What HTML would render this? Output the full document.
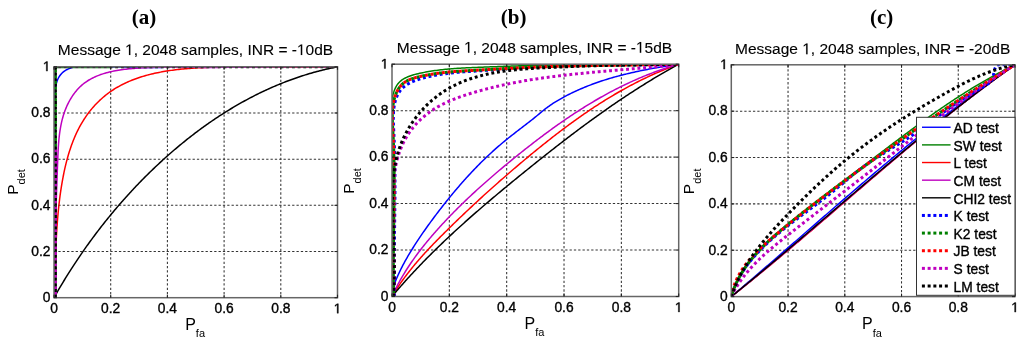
<!DOCTYPE html>
<html><head><meta charset="utf-8"><style>
html,body{margin:0;padding:0;background:#fff;}
svg{display:block;filter:blur(0.4px);}
text{font-family:'Liberation Sans', sans-serif;fill:#000;}
.b{stroke:#000;stroke-width:0.35px;}
.t{stroke:#000;stroke-width:0.12px;}
</style></head><body>
<svg width="1024" height="342" viewBox="0 0 1024 342">
<rect width="1024" height="342" fill="#fff"/>
<defs><clipPath id="cpa"><rect x="54.0" y="66.8" width="283.5" height="230.89999999999998"/></clipPath></defs>
<line x1="110.70" y1="66.80" x2="110.70" y2="297.70" stroke="#333" stroke-width="1.05" stroke-dasharray="2.3 2.03"/>
<line x1="54.00" y1="251.52" x2="337.50" y2="251.52" stroke="#333" stroke-width="1.05" stroke-dasharray="2.3 2.03"/>
<line x1="167.40" y1="66.80" x2="167.40" y2="297.70" stroke="#333" stroke-width="1.05" stroke-dasharray="2.3 2.03"/>
<line x1="54.00" y1="205.34" x2="337.50" y2="205.34" stroke="#333" stroke-width="1.05" stroke-dasharray="2.3 2.03"/>
<line x1="224.10" y1="66.80" x2="224.10" y2="297.70" stroke="#333" stroke-width="1.05" stroke-dasharray="2.3 2.03"/>
<line x1="54.00" y1="159.16" x2="337.50" y2="159.16" stroke="#333" stroke-width="1.05" stroke-dasharray="2.3 2.03"/>
<line x1="280.80" y1="66.80" x2="280.80" y2="297.70" stroke="#333" stroke-width="1.05" stroke-dasharray="2.3 2.03"/>
<line x1="54.00" y1="112.98" x2="337.50" y2="112.98" stroke="#333" stroke-width="1.05" stroke-dasharray="2.3 2.03"/>
<g clip-path="url(#cpa)">
<path d="M55.13,297.70 L55.13,69.11 L57.40,67.03 L68.17,66.80 L337.50,66.80" fill="none" stroke="#008000" stroke-width="1.5" stroke-linejoin="round" />
<path d="M54.00,297.70 L54.00,296.17 L54.00,294.65 L54.00,293.12 L54.00,291.60 L54.00,290.08 L54.00,288.56 L54.00,287.04 L54.00,285.52 L54.00,284.00 L54.00,282.49 L54.00,280.97 L54.01,279.46 L54.02,277.94 L54.04,276.43 L54.05,274.92 L54.07,273.41 L54.09,271.90 L54.11,270.39 L54.13,268.89 L54.15,267.38 L54.17,265.87 L54.20,264.37 L54.22,262.86 L54.25,261.36 L54.28,259.86 L54.31,258.35 L54.33,256.85 L54.36,255.35 L54.40,253.85 L54.43,252.35 L54.46,250.85 L54.49,249.35 L54.53,247.86 L54.56,246.36 L54.60,244.86 L54.63,243.36 L54.67,241.87 L54.70,240.37 L54.74,238.88 L54.77,237.38 L54.81,235.89 L54.85,234.39 L54.88,232.90 L54.92,231.40 L54.96,229.91 L54.99,228.41 L55.03,226.92 L55.07,225.43 L55.10,223.93 L55.14,222.44 L55.17,220.94 L55.21,219.45 L55.24,217.96 L55.28,216.46 L55.31,214.97 L55.35,213.48 L55.38,211.98 L55.41,210.49 L55.44,208.99 L55.47,207.50 L55.50,206.00 L55.53,204.51 L55.56,203.01 L55.59,201.52 L55.61,200.02 L55.64,198.52 L55.66,197.03 L55.68,195.53 L55.70,194.03 L55.72,192.54 L55.74,191.04 L55.76,189.54 L55.78,188.04 L55.79,186.54 L55.80,185.04 L55.82,183.54 L55.83,182.03 L55.83,180.53 L55.84,179.03 L55.85,177.52 L55.85,176.02 L55.85,174.51 L55.85,173.01 L55.85,171.50 L55.84,169.99 L55.83,168.48 L55.83,166.97 L55.81,165.46 L55.80,163.95 L55.79,162.43 L55.77,160.92 L55.75,159.41 L55.72,157.89 L55.70,156.37 L55.67,154.85 L55.64,153.33 L55.61,151.81 L55.57,150.29 L55.54,148.77 L55.49,147.25 L55.45,145.72 L55.40,144.19 L55.35,142.66 L55.30,141.14 L55.25,139.60 L55.19,138.07 L55.13,136.54 L55.06,135.00 L54.99,133.47 L54.93,131.93 L54.85,130.39 L54.78,128.85 L54.71,127.31 L54.64,125.77 L54.58,124.23 L54.51,122.68 L54.45,121.14 L54.39,119.60 L54.34,118.06 L54.29,116.51 L54.25,114.97 L54.22,113.43 L54.19,111.89 L54.17,110.35 L54.17,108.81 L54.17,107.27 L54.18,105.73 L54.21,104.20 L54.25,102.66 L54.30,101.13 L54.36,99.60 L54.44,98.07 L54.54,96.54 L54.65,95.01 L54.77,93.49 L54.92,91.97 L55.09,90.46 L55.29,88.96 L55.51,87.48 L55.78,86.02 L56.08,84.58 L56.44,83.18 L56.84,81.82 L57.30,80.49 L57.81,79.22 L58.40,78.00 L59.05,76.83 L59.77,75.72 L60.57,74.68 L61.43,73.70 L62.36,72.78 L63.36,71.92 L64.42,71.12 L65.53,70.39 L66.70,69.71 L67.93,69.11 L69.20,68.56 L70.52,68.07 L71.87,67.63 L73.27,67.24 L74.68,66.90 L76.13,66.80 L77.59,66.80 L79.06,66.80 L80.54,66.80 L82.03,66.80 L83.53,66.80 L85.03,66.80 L86.55,66.80 L88.07,66.80 L89.60,66.80 L91.13,66.80 L92.67,66.80 L94.22,66.80 L95.77,66.80 L97.32,66.80 L98.88,66.80 L100.44,66.80 L102.00,66.80 L103.57,66.80 L105.14,66.80 L106.71,66.80 L108.28,66.80 L109.85,66.80 L111.42,66.80 L112.98,66.80 L114.55,66.80 L116.12,66.80 L117.68,66.80 L119.24,66.80 L120.79,66.80 L122.35,66.81 L123.90,66.89 L125.44,66.97 L126.98,67.05 L128.52,67.11 L130.06,67.18 L131.59,67.23 L133.11,67.28 L134.64,67.32 L136.16,67.36 L137.68,67.40 L139.20,67.42 L140.71,67.45 L142.22,67.47 L143.73,67.48 L145.24,67.49 L146.75,67.50 L148.25,67.50 L149.75,67.50 L151.25,67.50 L152.74,67.49 L154.24,67.48 L155.73,67.47 L157.23,67.45 L158.72,67.43 L160.21,67.41 L161.69,67.39 L163.18,67.36 L164.67,67.33 L166.15,67.30 L167.64,67.27 L169.12,67.24 L170.61,67.21 L172.09,67.18 L173.57,67.14 L175.06,67.11 L176.54,67.07 L178.02,67.03 L179.50,67.00 L180.99,66.96 L182.47,66.93 L183.95,66.89 L185.44,66.86 L186.92,66.83 L188.41,66.80 L189.89,66.80 L191.38,66.80 L192.87,66.80 L194.36,66.80 L195.85,66.80 L197.34,66.80 L198.83,66.80 L200.33,66.80 L201.82,66.80 L203.32,66.80 L204.82,66.80 L206.31,66.80 L207.81,66.80 L209.31,66.80 L210.81,66.80 L212.31,66.80 L213.82,66.80 L215.32,66.80 L216.82,66.80 L218.33,66.80 L219.83,66.80 L221.34,66.80 L222.84,66.80 L224.35,66.80 L225.86,66.80 L227.37,66.80 L228.88,66.80 L230.39,66.80 L231.90,66.80 L233.41,66.80 L234.92,66.80 L236.43,66.80 L237.94,66.80 L239.46,66.80 L240.97,66.80 L242.48,66.80 L244.00,66.80 L245.51,66.80 L247.02,66.80 L248.54,66.80 L250.05,66.80 L251.57,66.80 L253.08,66.80 L254.60,66.80 L256.11,66.80 L257.63,66.80 L259.15,66.80 L260.66,66.80 L262.18,66.80 L263.69,66.80 L265.21,66.80 L266.72,66.80 L268.24,66.80 L269.76,66.82 L271.27,66.83 L272.79,66.85 L274.30,66.86 L275.82,66.87 L277.33,66.89 L278.85,66.90 L280.36,66.92 L281.88,66.93 L283.39,66.94 L284.90,66.95 L286.42,66.97 L287.93,66.98 L289.44,66.99 L290.96,67.00 L292.47,67.01 L293.98,67.02 L295.49,67.02 L297.00,67.03 L298.51,67.04 L300.02,67.04 L301.53,67.05 L303.04,67.05 L304.54,67.05 L306.05,67.06 L307.56,67.06 L309.06,67.06 L310.57,67.06 L312.07,67.05 L313.57,67.05 L315.08,67.04 L316.58,67.04 L318.08,67.03 L319.58,67.02 L321.08,67.01 L322.58,67.00 L324.07,66.99 L325.57,66.97 L327.06,66.96 L328.56,66.94 L330.05,66.92 L331.54,66.90 L333.03,66.88 L334.52,66.85 L336.01,66.83 L337.50,66.80" fill="none" stroke="#0000ff" stroke-width="1.5" stroke-linejoin="round" />
<path d="M54.00,297.70 L54.07,296.20 L54.14,294.69 L54.20,293.19 L54.27,291.69 L54.33,290.19 L54.39,288.69 L54.45,287.19 L54.51,285.69 L54.56,284.19 L54.62,282.69 L54.67,281.19 L54.73,279.69 L54.78,278.19 L54.83,276.69 L54.88,275.20 L54.93,273.70 L54.99,272.20 L55.04,270.70 L55.09,269.21 L55.14,267.71 L55.19,266.22 L55.24,264.72 L55.29,263.22 L55.34,261.73 L55.39,260.23 L55.45,258.74 L55.50,257.24 L55.56,255.74 L55.61,254.25 L55.67,252.75 L55.73,251.26 L55.79,249.76 L55.86,248.27 L55.92,246.77 L55.99,245.27 L56.05,243.78 L56.13,242.28 L56.20,240.78 L56.27,239.29 L56.35,237.79 L56.43,236.29 L56.52,234.80 L56.60,233.30 L56.69,231.80 L56.78,230.30 L56.88,228.80 L56.98,227.30 L57.08,225.81 L57.19,224.31 L57.30,222.81 L57.41,221.30 L57.53,219.80 L57.65,218.30 L57.78,216.80 L57.91,215.30 L58.05,213.79 L58.19,212.29 L58.33,210.79 L58.48,209.28 L58.64,207.78 L58.80,206.27 L58.96,204.76 L59.13,203.26 L59.31,201.75 L59.49,200.24 L59.68,198.73 L59.87,197.22 L60.07,195.71 L60.28,194.20 L60.49,192.68 L60.71,191.17 L60.93,189.66 L61.17,188.14 L61.40,186.62 L61.65,185.11 L61.90,183.59 L62.16,182.07 L62.43,180.55 L62.70,179.03 L62.99,177.52 L63.28,176.00 L63.58,174.48 L63.89,172.97 L64.20,171.46 L64.53,169.94 L64.86,168.44 L65.21,166.93 L65.56,165.43 L65.93,163.92 L66.30,162.43 L66.69,160.93 L67.08,159.44 L67.49,157.96 L67.90,156.48 L68.33,155.00 L68.77,153.53 L69.22,152.07 L69.68,150.61 L70.16,149.15 L70.64,147.71 L71.14,146.26 L71.65,144.83 L72.18,143.40 L72.72,141.98 L73.27,140.57 L73.83,139.17 L74.41,137.77 L75.00,136.39 L75.61,135.01 L76.23,133.64 L76.87,132.28 L77.52,130.93 L78.18,129.59 L78.86,128.26 L79.56,126.94 L80.27,125.64 L80.99,124.34 L81.74,123.05 L82.50,121.78 L83.27,120.52 L84.07,119.27 L84.88,118.04 L85.70,116.81 L86.54,115.60 L87.40,114.41 L88.27,113.22 L89.16,112.05 L90.07,110.90 L90.99,109.76 L91.93,108.63 L92.88,107.52 L93.84,106.42 L94.82,105.34 L95.82,104.28 L96.83,103.22 L97.85,102.19 L98.89,101.17 L99.95,100.17 L101.01,99.18 L102.09,98.21 L103.19,97.26 L104.30,96.33 L105.42,95.41 L106.55,94.51 L107.70,93.63 L108.86,92.77 L110.04,91.92 L111.22,91.10 L112.42,90.29 L113.63,89.50 L114.85,88.73 L116.09,87.98 L117.33,87.24 L118.59,86.53 L119.86,85.83 L121.14,85.14 L122.43,84.48 L123.73,83.83 L125.04,83.20 L126.36,82.58 L127.69,81.98 L129.03,81.40 L130.38,80.83 L131.74,80.28 L133.11,79.74 L134.49,79.22 L135.88,78.71 L137.27,78.21 L138.67,77.73 L140.08,77.27 L141.50,76.82 L142.93,76.38 L144.36,75.96 L145.80,75.55 L147.25,75.15 L148.70,74.76 L150.16,74.39 L151.63,74.03 L153.10,73.68 L154.58,73.35 L156.06,73.02 L157.55,72.71 L159.05,72.41 L160.54,72.12 L162.05,71.84 L163.56,71.57 L165.07,71.31 L166.59,71.06 L168.11,70.82 L169.63,70.59 L171.16,70.37 L172.69,70.16 L174.23,69.96 L175.77,69.77 L177.31,69.58 L178.85,69.41 L180.39,69.24 L181.94,69.08 L183.49,68.93 L185.04,68.78 L186.59,68.65 L188.14,68.52 L189.70,68.39 L191.25,68.28 L192.80,68.16 L194.36,68.06 L195.91,67.96 L197.47,67.87 L199.02,67.78 L200.58,67.70 L202.13,67.63 L203.68,67.55 L205.23,67.49 L206.78,67.42 L208.33,67.37 L209.88,67.31 L211.42,67.26 L212.96,67.21 L214.50,67.17 L216.04,67.13 L217.57,67.09 L219.10,67.05 L220.63,67.02 L222.16,66.99 L223.68,66.96 L225.20,66.94 L226.71,66.92 L228.23,66.90 L229.74,66.88 L231.25,66.86 L232.76,66.85 L234.26,66.83 L235.76,66.82 L237.26,66.82 L238.76,66.81 L240.26,66.80 L241.75,66.80 L243.25,66.80 L244.74,66.80 L246.23,66.80 L247.72,66.80 L249.21,66.81 L250.69,66.81 L252.18,66.82 L253.66,66.83 L255.14,66.84 L256.62,66.84 L258.11,66.85 L259.59,66.87 L261.06,66.88 L262.54,66.89 L264.02,66.90 L265.50,66.92 L266.98,66.93 L268.45,66.94 L269.93,66.96 L271.41,66.97 L272.88,66.99 L274.36,67.00 L275.84,67.02 L277.31,67.03 L278.79,67.05 L280.27,67.06 L281.75,67.08 L283.22,67.09 L284.70,67.11 L286.18,67.12 L287.66,67.13 L289.15,67.15 L290.63,67.16 L292.11,67.17 L293.60,67.18 L295.08,67.19 L296.57,67.20 L298.06,67.20 L299.55,67.21 L301.04,67.21 L302.53,67.22 L304.03,67.22 L305.52,67.22 L307.02,67.22 L308.52,67.22 L310.02,67.22 L311.53,67.21 L313.03,67.20 L314.54,67.19 L316.05,67.18 L317.57,67.17 L319.08,67.16 L320.60,67.14 L322.12,67.12 L323.65,67.10 L325.17,67.08 L326.70,67.05 L328.24,67.02 L329.77,66.99 L331.31,66.96 L332.85,66.92 L334.40,66.88 L335.95,66.84 L337.50,66.80" fill="none" stroke="#ff0000" stroke-width="1.5" stroke-linejoin="round" />
<path d="M54.00,297.70 L54.01,296.15 L54.03,294.61 L54.04,293.07 L54.06,291.53 L54.08,289.99 L54.09,288.46 L54.11,286.93 L54.13,285.40 L54.15,283.87 L54.17,282.35 L54.19,280.83 L54.21,279.31 L54.24,277.79 L54.26,276.28 L54.28,274.77 L54.31,273.26 L54.34,271.75 L54.36,270.24 L54.39,268.74 L54.42,267.23 L54.45,265.73 L54.48,264.23 L54.51,262.73 L54.54,261.24 L54.57,259.74 L54.60,258.25 L54.63,256.75 L54.67,255.26 L54.70,253.77 L54.73,252.28 L54.77,250.79 L54.80,249.31 L54.84,247.82 L54.88,246.33 L54.92,244.85 L54.95,243.36 L54.99,241.88 L55.03,240.40 L55.07,238.91 L55.11,237.43 L55.15,235.95 L55.19,234.47 L55.24,232.98 L55.28,231.50 L55.32,230.02 L55.36,228.54 L55.41,227.06 L55.45,225.58 L55.50,224.09 L55.54,222.61 L55.59,221.13 L55.63,219.65 L55.68,218.16 L55.73,216.68 L55.77,215.20 L55.82,213.71 L55.87,212.22 L55.92,210.74 L55.97,209.25 L56.02,207.76 L56.07,206.27 L56.12,204.78 L56.17,203.29 L56.22,201.80 L56.27,200.30 L56.32,198.81 L56.37,197.31 L56.42,195.81 L56.48,194.31 L56.53,192.81 L56.58,191.30 L56.63,189.80 L56.69,188.29 L56.74,186.78 L56.80,185.27 L56.85,183.76 L56.90,182.24 L56.96,180.73 L57.01,179.21 L57.07,177.69 L57.12,176.16 L57.18,174.64 L57.24,173.11 L57.29,171.58 L57.35,170.04 L57.40,168.51 L57.46,166.97 L57.52,165.42 L57.57,163.88 L57.63,162.33 L57.69,160.78 L57.75,159.23 L57.81,157.67 L57.87,156.12 L57.94,154.56 L58.01,153.00 L58.08,151.44 L58.16,149.88 L58.25,148.32 L58.35,146.76 L58.45,145.21 L58.56,143.66 L58.69,142.10 L58.82,140.56 L58.97,139.01 L59.12,137.47 L59.29,135.93 L59.48,134.40 L59.68,132.87 L59.89,131.35 L60.12,129.83 L60.37,128.32 L60.63,126.82 L60.91,125.32 L61.22,123.83 L61.54,122.35 L61.88,120.88 L62.25,119.42 L62.64,117.97 L63.05,116.52 L63.48,115.09 L63.94,113.67 L64.42,112.26 L64.92,110.87 L65.45,109.48 L66.00,108.12 L66.57,106.76 L67.17,105.43 L67.79,104.11 L68.43,102.81 L69.10,101.52 L69.80,100.26 L70.52,99.01 L71.26,97.79 L72.03,96.58 L72.82,95.40 L73.64,94.24 L74.48,93.10 L75.34,91.99 L76.24,90.90 L77.16,89.83 L78.10,88.80 L79.07,87.79 L80.06,86.80 L81.08,85.85 L82.13,84.92 L83.20,84.03 L84.30,83.16 L85.43,82.33 L86.58,81.52 L87.76,80.75 L88.96,80.01 L90.18,79.30 L91.43,78.61 L92.70,77.96 L93.99,77.33 L95.30,76.73 L96.64,76.16 L97.99,75.61 L99.36,75.08 L100.74,74.58 L102.14,74.11 L103.56,73.65 L105.00,73.22 L106.44,72.81 L107.90,72.43 L109.38,72.06 L110.86,71.71 L112.36,71.38 L113.86,71.07 L115.38,70.78 L116.90,70.50 L118.43,70.24 L119.97,70.00 L121.52,69.77 L123.06,69.55 L124.62,69.35 L126.17,69.17 L127.73,68.99 L129.30,68.83 L130.86,68.68 L132.42,68.53 L133.99,68.40 L135.55,68.28 L137.11,68.16 L138.67,68.06 L140.22,67.96 L141.77,67.87 L143.32,67.78 L144.86,67.70 L146.40,67.63 L147.94,67.57 L149.47,67.51 L151.01,67.45 L152.53,67.40 L154.06,67.36 L155.59,67.32 L157.11,67.29 L158.63,67.26 L160.15,67.24 L161.66,67.22 L163.17,67.20 L164.69,67.19 L166.20,67.18 L167.70,67.17 L169.21,67.17 L170.72,67.17 L172.22,67.17 L173.72,67.17 L175.22,67.18 L176.72,67.19 L178.22,67.20 L179.72,67.21 L181.22,67.22 L182.71,67.23 L184.21,67.25 L185.71,67.26 L187.20,67.27 L188.70,67.29 L190.19,67.30 L191.69,67.32 L193.18,67.33 L194.68,67.34 L196.17,67.35 L197.66,67.36 L199.16,67.37 L200.66,67.38 L202.15,67.38 L203.65,67.39 L205.14,67.39 L206.64,67.40 L208.14,67.40 L209.63,67.40 L211.13,67.40 L212.63,67.39 L214.13,67.39 L215.63,67.39 L217.12,67.38 L218.62,67.38 L220.12,67.37 L221.62,67.36 L223.12,67.36 L224.62,67.35 L226.12,67.34 L227.62,67.33 L229.12,67.32 L230.62,67.31 L232.12,67.29 L233.62,67.28 L235.12,67.27 L236.62,67.25 L238.12,67.24 L239.62,67.23 L241.12,67.21 L242.63,67.19 L244.13,67.18 L245.63,67.16 L247.13,67.15 L248.63,67.13 L250.14,67.11 L251.64,67.10 L253.14,67.08 L254.65,67.06 L256.15,67.04 L257.65,67.03 L259.16,67.01 L260.66,66.99 L262.16,66.97 L263.67,66.95 L265.17,66.94 L266.68,66.92 L268.18,66.90 L269.69,66.89 L271.19,66.87 L272.70,66.85 L274.20,66.84 L275.71,66.82 L277.21,66.80 L278.72,66.80 L280.22,66.80 L281.73,66.80 L283.23,66.80 L284.74,66.80 L286.25,66.80 L287.75,66.80 L289.26,66.80 L290.76,66.80 L292.27,66.80 L293.78,66.80 L295.28,66.80 L296.79,66.80 L298.30,66.80 L299.81,66.80 L301.31,66.80 L302.82,66.80 L304.33,66.80 L305.83,66.80 L307.34,66.80 L308.85,66.80 L310.36,66.80 L311.86,66.80 L313.37,66.80 L314.88,66.80 L316.39,66.80 L317.89,66.80 L319.40,66.80 L320.91,66.80 L322.42,66.80 L323.93,66.80 L325.43,66.80 L326.94,66.80 L328.45,66.80 L329.96,66.80 L331.47,66.80 L332.98,66.80 L334.48,66.80 L335.99,66.80 L337.50,66.80" fill="none" stroke="#bf00bf" stroke-width="1.5" stroke-linejoin="round" />
<path d="M54.00,297.70 L54.73,296.40 L55.46,295.11 L56.20,293.83 L56.94,292.54 L57.68,291.25 L58.43,289.97 L59.18,288.68 L59.93,287.40 L60.69,286.12 L61.46,284.84 L62.22,283.56 L62.99,282.29 L63.77,281.01 L64.54,279.74 L65.32,278.46 L66.11,277.19 L66.90,275.92 L67.69,274.65 L68.48,273.39 L69.28,272.12 L70.09,270.86 L70.89,269.60 L71.70,268.34 L72.52,267.08 L73.33,265.82 L74.15,264.56 L74.98,263.31 L75.81,262.06 L76.64,260.81 L77.47,259.56 L78.31,258.31 L79.15,257.07 L80.00,255.82 L80.85,254.58 L81.70,253.34 L82.56,252.10 L83.42,250.87 L84.28,249.63 L85.15,248.40 L86.02,247.17 L86.89,245.94 L87.77,244.72 L88.65,243.49 L89.54,242.27 L90.42,241.05 L91.31,239.83 L92.21,238.61 L93.11,237.40 L94.01,236.19 L94.91,234.98 L95.82,233.77 L96.73,232.57 L97.65,231.36 L98.57,230.16 L99.49,228.96 L100.42,227.77 L101.35,226.57 L102.28,225.38 L103.21,224.19 L104.15,223.00 L105.10,221.82 L106.04,220.63 L106.99,219.45 L107.94,218.28 L108.90,217.10 L109.86,215.93 L110.82,214.76 L111.79,213.59 L112.76,212.42 L113.73,211.26 L114.71,210.10 L115.68,208.94 L116.67,207.79 L117.65,206.63 L118.64,205.48 L119.63,204.34 L120.63,203.19 L121.63,202.05 L122.63,200.91 L123.64,199.77 L124.65,198.64 L125.66,197.51 L126.67,196.38 L127.69,195.25 L128.71,194.13 L129.74,193.01 L130.76,191.89 L131.80,190.78 L132.83,189.67 L133.87,188.56 L134.91,187.45 L135.95,186.35 L137.00,185.25 L138.05,184.16 L139.10,183.06 L140.16,181.97 L141.22,180.89 L142.28,179.80 L143.35,178.72 L144.42,177.64 L145.49,176.57 L146.56,175.50 L147.64,174.43 L148.72,173.36 L149.81,172.30 L150.90,171.24 L151.99,170.19 L153.08,169.13 L154.18,168.09 L155.28,167.04 L156.38,166.00 L157.49,164.96 L158.59,163.92 L159.71,162.89 L160.82,161.86 L161.94,160.84 L163.06,159.82 L164.18,158.80 L165.31,157.78 L166.44,156.77 L167.58,155.77 L168.71,154.76 L169.85,153.76 L170.99,152.76 L172.14,151.77 L173.28,150.78 L174.44,149.80 L175.59,148.81 L176.75,147.84 L177.91,146.86 L179.07,145.89 L180.23,144.92 L181.40,143.96 L182.57,143.00 L183.75,142.05 L184.93,141.10 L186.11,140.15 L187.29,139.21 L188.48,138.27 L189.67,137.33 L190.86,136.40 L192.05,135.48 L193.25,134.56 L194.45,133.64 L195.65,132.72 L196.86,131.82 L198.07,130.91 L199.28,130.01 L200.50,129.11 L201.72,128.22 L202.94,127.34 L204.16,126.45 L205.39,125.58 L206.62,124.70 L207.85,123.83 L209.08,122.97 L210.32,122.11 L211.56,121.25 L212.81,120.40 L214.05,119.56 L215.30,118.72 L216.56,117.88 L217.81,117.05 L219.07,116.23 L220.33,115.40 L221.59,114.59 L222.86,113.78 L224.13,112.97 L225.40,112.17 L226.68,111.37 L227.96,110.58 L229.24,109.80 L230.52,109.01 L231.81,108.24 L233.10,107.47 L234.39,106.70 L235.68,105.94 L236.98,105.19 L238.28,104.44 L239.58,103.70 L240.89,102.96 L242.20,102.22 L243.51,101.50 L244.82,100.77 L246.14,100.06 L247.46,99.35 L248.78,98.64 L250.11,97.94 L251.43,97.25 L252.76,96.56 L254.10,95.87 L255.43,95.20 L256.77,94.53 L258.11,93.86 L259.46,93.20 L260.81,92.55 L262.16,91.90 L263.51,91.26 L264.86,90.62 L266.22,89.99 L267.58,89.36 L268.94,88.75 L270.31,88.13 L271.68,87.53 L273.05,86.93 L274.43,86.34 L275.80,85.75 L277.18,85.17 L278.56,84.59 L279.95,84.02 L281.34,83.46 L282.73,82.90 L284.12,82.36 L285.51,81.81 L286.91,81.28 L288.31,80.74 L289.72,80.22 L291.12,79.70 L292.53,79.19 L293.94,78.69 L295.36,78.19 L296.77,77.70 L298.19,77.22 L299.62,76.74 L301.04,76.27 L302.47,75.81 L303.90,75.35 L305.33,74.90 L306.76,74.46 L308.20,74.02 L309.64,73.59 L311.09,73.17 L312.53,72.75 L313.98,72.34 L315.43,71.94 L316.88,71.55 L318.34,71.16 L319.80,70.78 L321.26,70.41 L322.72,70.04 L324.19,69.68 L325.66,69.33 L327.13,68.99 L328.60,68.65 L330.08,68.32 L331.56,68.00 L333.04,67.69 L334.52,67.38 L336.01,67.08 L337.50,66.80" fill="none" stroke="#000000" stroke-width="1.5" stroke-linejoin="round" />
<path d="M55.42,297.70 L55.42,66.80 L110.70,66.80" fill="none" stroke="#008000" stroke-width="3" stroke-dasharray="2.9 2.8" stroke-dashoffset="2.85"/>
<path d="M55.42,297.70 L55.42,147.62" fill="none" stroke="#bf00bf" stroke-width="3" stroke-dasharray="2.9 2.8" stroke-dashoffset="2.85"/>
<path d="M55.42,297.70 L55.42,66.80 L337.50,66.80" fill="none" stroke="#000000" stroke-width="3" stroke-dasharray="2.9 2.8" />
</g>
<rect x="54.00" y="66.80" width="283.50" height="230.90" fill="none" stroke="#666" stroke-width="1.5"/>
<line x1="54.00" y1="297.70" x2="54.00" y2="294.70" stroke="#222" stroke-width="1.1"/>
<line x1="54.00" y1="66.80" x2="54.00" y2="69.80" stroke="#222" stroke-width="1.1"/>
<line x1="54.00" y1="297.70" x2="57.00" y2="297.70" stroke="#222" stroke-width="1.1"/>
<line x1="337.50" y1="297.70" x2="334.50" y2="297.70" stroke="#222" stroke-width="1.1"/>
<line x1="110.70" y1="297.70" x2="110.70" y2="294.70" stroke="#222" stroke-width="1.1"/>
<line x1="110.70" y1="66.80" x2="110.70" y2="69.80" stroke="#222" stroke-width="1.1"/>
<line x1="54.00" y1="251.52" x2="57.00" y2="251.52" stroke="#222" stroke-width="1.1"/>
<line x1="337.50" y1="251.52" x2="334.50" y2="251.52" stroke="#222" stroke-width="1.1"/>
<line x1="167.40" y1="297.70" x2="167.40" y2="294.70" stroke="#222" stroke-width="1.1"/>
<line x1="167.40" y1="66.80" x2="167.40" y2="69.80" stroke="#222" stroke-width="1.1"/>
<line x1="54.00" y1="205.34" x2="57.00" y2="205.34" stroke="#222" stroke-width="1.1"/>
<line x1="337.50" y1="205.34" x2="334.50" y2="205.34" stroke="#222" stroke-width="1.1"/>
<line x1="224.10" y1="297.70" x2="224.10" y2="294.70" stroke="#222" stroke-width="1.1"/>
<line x1="224.10" y1="66.80" x2="224.10" y2="69.80" stroke="#222" stroke-width="1.1"/>
<line x1="54.00" y1="159.16" x2="57.00" y2="159.16" stroke="#222" stroke-width="1.1"/>
<line x1="337.50" y1="159.16" x2="334.50" y2="159.16" stroke="#222" stroke-width="1.1"/>
<line x1="280.80" y1="297.70" x2="280.80" y2="294.70" stroke="#222" stroke-width="1.1"/>
<line x1="280.80" y1="66.80" x2="280.80" y2="69.80" stroke="#222" stroke-width="1.1"/>
<line x1="54.00" y1="112.98" x2="57.00" y2="112.98" stroke="#222" stroke-width="1.1"/>
<line x1="337.50" y1="112.98" x2="334.50" y2="112.98" stroke="#222" stroke-width="1.1"/>
<line x1="337.50" y1="297.70" x2="337.50" y2="294.70" stroke="#222" stroke-width="1.1"/>
<line x1="337.50" y1="66.80" x2="337.50" y2="69.80" stroke="#222" stroke-width="1.1"/>
<line x1="54.00" y1="66.80" x2="57.00" y2="66.80" stroke="#222" stroke-width="1.1"/>
<line x1="337.50" y1="66.80" x2="334.50" y2="66.80" stroke="#222" stroke-width="1.1"/>
<text x="54.00" y="313.20" text-anchor="middle" font-size="13.8" class="b">0</text>
<text x="50.50" y="302.00" text-anchor="end" font-size="13.8" class="b">0</text>
<text x="110.70" y="313.20" text-anchor="middle" font-size="13.8" class="b">0.2</text>
<text x="50.50" y="255.82" text-anchor="end" font-size="13.8" class="b">0.2</text>
<text x="167.40" y="313.20" text-anchor="middle" font-size="13.8" class="b">0.4</text>
<text x="50.50" y="209.64" text-anchor="end" font-size="13.8" class="b">0.4</text>
<text x="224.10" y="313.20" text-anchor="middle" font-size="13.8" class="b">0.6</text>
<text x="50.50" y="163.46" text-anchor="end" font-size="13.8" class="b">0.6</text>
<text x="280.80" y="313.20" text-anchor="middle" font-size="13.8" class="b">0.8</text>
<text x="50.50" y="117.28" text-anchor="end" font-size="13.8" class="b">0.8</text>
<text x="337.50" y="313.20" text-anchor="middle" font-size="13.8" class="b"> </text><path d="M515 0H696V1409H530L197 1180V1010L515 1237Z" transform="translate(333.663,313.200) scale(0.006738,-0.006738)" class="b" fill="#000" vector-effect="non-scaling-stroke"/>
<text x="50.50" y="71.10" text-anchor="end" font-size="13.8" class="b"> </text><path d="M515 0H696V1409H530L197 1180V1010L515 1237Z" transform="translate(42.825,71.100) scale(0.006738,-0.006738)" class="b" fill="#000" vector-effect="non-scaling-stroke"/>
<text x="144" y="24" text-anchor="middle" style="font-family:'Liberation Serif', serif;font-weight:bold" font-size="21">(a)</text>
<text x="195.50" y="55.10" text-anchor="middle" font-size="15.5" class="t">Message  , 2048 samples, INR = - 0dB</text><path d="M515 0H696V1409H530L197 1180V1010L515 1237Z" transform="translate(125.065,55.100) scale(0.007568,-0.007568)" class="t" fill="#000" vector-effect="non-scaling-stroke"/><path d="M515 0H696V1409H530L197 1180V1010L515 1237Z" transform="translate(296.935,55.100) scale(0.007568,-0.007568)" class="t" fill="#000" vector-effect="non-scaling-stroke"/>
<text x="185.2" y="330.0" font-size="16">P<tspan font-size="11" dy="7.2">fa</tspan></text>
<text transform="translate(17.5,194.8) rotate(-90)" font-size="15.5">P<tspan font-size="11" dy="7">det</tspan></text>
<defs><clipPath id="cpb"><rect x="392.0" y="64.2" width="286.70000000000005" height="232.3"/></clipPath></defs>
<line x1="449.34" y1="64.20" x2="449.34" y2="296.50" stroke="#333" stroke-width="1.05" stroke-dasharray="2.3 2.03"/>
<line x1="392.00" y1="250.04" x2="678.70" y2="250.04" stroke="#333" stroke-width="1.05" stroke-dasharray="2.3 2.03"/>
<line x1="506.68" y1="64.20" x2="506.68" y2="296.50" stroke="#333" stroke-width="1.05" stroke-dasharray="2.3 2.03"/>
<line x1="392.00" y1="203.58" x2="678.70" y2="203.58" stroke="#333" stroke-width="1.05" stroke-dasharray="2.3 2.03"/>
<line x1="564.02" y1="64.20" x2="564.02" y2="296.50" stroke="#333" stroke-width="1.05" stroke-dasharray="2.3 2.03"/>
<line x1="392.00" y1="157.12" x2="678.70" y2="157.12" stroke="#333" stroke-width="1.05" stroke-dasharray="2.3 2.03"/>
<line x1="621.36" y1="64.20" x2="621.36" y2="296.50" stroke="#333" stroke-width="1.05" stroke-dasharray="2.3 2.03"/>
<line x1="392.00" y1="110.66" x2="678.70" y2="110.66" stroke="#333" stroke-width="1.05" stroke-dasharray="2.3 2.03"/>
<g clip-path="url(#cpb)">
<path d="M392.00,296.50 L392.09,295.02 L392.23,293.54 L392.44,292.07 L392.70,290.61 L393.01,289.15 L393.37,287.70 L393.77,286.26 L394.21,284.82 L394.69,283.39 L395.20,281.97 L395.74,280.55 L396.30,279.14 L396.89,277.74 L397.50,276.35 L398.12,274.96 L398.75,273.58 L399.40,272.21 L400.05,270.85 L400.72,269.49 L401.40,268.14 L402.08,266.79 L402.78,265.46 L403.49,264.12 L404.20,262.80 L404.92,261.47 L405.66,260.16 L406.40,258.85 L407.14,257.54 L407.90,256.24 L408.66,254.94 L409.43,253.65 L410.21,252.36 L410.99,251.08 L411.78,249.79 L412.57,248.52 L413.37,247.24 L414.18,245.97 L414.99,244.70 L415.80,243.44 L416.62,242.18 L417.45,240.92 L418.28,239.66 L419.11,238.41 L419.95,237.16 L420.79,235.91 L421.64,234.67 L422.49,233.42 L423.35,232.18 L424.21,230.95 L425.08,229.72 L425.94,228.48 L426.82,227.26 L427.69,226.03 L428.58,224.81 L429.46,223.59 L430.35,222.37 L431.24,221.15 L432.13,219.94 L433.03,218.73 L433.93,217.52 L434.84,216.31 L435.75,215.11 L436.66,213.91 L437.57,212.71 L438.49,211.51 L439.41,210.31 L440.33,209.12 L441.26,207.93 L442.19,206.74 L443.12,205.55 L444.05,204.36 L444.99,203.18 L445.93,202.00 L446.87,200.82 L447.82,199.64 L448.76,198.47 L449.72,197.30 L450.67,196.13 L451.63,194.97 L452.59,193.80 L453.55,192.64 L454.52,191.49 L455.49,190.33 L456.47,189.18 L457.45,188.03 L458.43,186.89 L459.41,185.75 L460.40,184.61 L461.39,183.47 L462.39,182.34 L463.39,181.21 L464.39,180.09 L465.40,178.96 L466.40,177.85 L467.42,176.73 L468.44,175.62 L469.46,174.51 L470.48,173.41 L471.51,172.31 L472.54,171.21 L473.58,170.12 L474.62,169.03 L475.67,167.94 L476.71,166.86 L477.77,165.79 L478.82,164.71 L479.89,163.65 L480.95,162.58 L482.02,161.52 L483.09,160.47 L484.17,159.42 L485.26,158.37 L486.34,157.33 L487.43,156.29 L488.53,155.26 L489.63,154.23 L490.73,153.21 L491.84,152.19 L492.96,151.17 L494.08,150.17 L495.20,149.16 L496.33,148.16 L497.46,147.17 L498.60,146.18 L499.74,145.20 L500.89,144.22 L502.04,143.25 L503.19,142.28 L504.36,141.32 L505.52,140.36 L506.69,139.41 L507.87,138.46 L509.05,137.52 L510.23,136.58 L511.42,135.65 L512.61,134.72 L513.80,133.79 L514.99,132.87 L516.19,131.94 L517.38,131.02 L518.58,130.10 L519.78,129.18 L520.97,128.27 L522.17,127.35 L523.37,126.43 L524.56,125.51 L525.75,124.59 L526.94,123.68 L528.13,122.75 L529.32,121.83 L530.50,120.91 L531.68,119.98 L532.85,119.05 L534.02,118.11 L535.18,117.17 L536.34,116.23 L537.50,115.28 L538.65,114.33 L539.79,113.38 L540.94,112.43 L542.09,111.48 L543.24,110.54 L544.40,109.61 L545.58,108.69 L546.76,107.78 L547.97,106.89 L549.19,106.02 L550.42,105.16 L551.67,104.32 L552.93,103.49 L554.20,102.67 L555.48,101.87 L556.77,101.08 L558.07,100.31 L559.38,99.55 L560.70,98.80 L562.02,98.06 L563.35,97.33 L564.68,96.61 L566.02,95.91 L567.36,95.21 L568.70,94.52 L570.05,93.85 L571.41,93.18 L572.76,92.52 L574.13,91.88 L575.49,91.24 L576.86,90.61 L578.24,89.99 L579.61,89.39 L581.00,88.79 L582.38,88.20 L583.77,87.61 L585.16,87.04 L586.56,86.48 L587.96,85.92 L589.36,85.38 L590.77,84.84 L592.18,84.31 L593.59,83.79 L595.01,83.28 L596.43,82.77 L597.85,82.27 L599.27,81.79 L600.70,81.30 L602.13,80.83 L603.57,80.37 L605.00,79.91 L606.44,79.46 L607.88,79.01 L609.33,78.58 L610.77,78.15 L612.22,77.72 L613.67,77.31 L615.12,76.90 L616.58,76.50 L618.03,76.10 L619.49,75.71 L620.95,75.33 L622.42,74.95 L623.88,74.58 L625.35,74.22 L626.81,73.86 L628.28,73.50 L629.75,73.16 L631.23,72.82 L632.70,72.48 L634.18,72.15 L635.65,71.82 L637.13,71.50 L638.61,71.19 L640.09,70.88 L641.57,70.57 L643.05,70.27 L644.53,69.97 L646.01,69.68 L647.50,69.39 L648.98,69.11 L650.47,68.83 L651.95,68.56 L653.44,68.29 L654.92,68.02 L656.41,67.76 L657.90,67.50 L659.38,67.24 L660.87,66.99 L662.36,66.74 L663.85,66.50 L665.33,66.25 L666.82,66.02 L668.31,65.78 L669.79,65.55 L671.28,65.32 L672.76,65.09 L674.25,64.86 L675.73,64.64 L677.22,64.42 L678.70,64.20" fill="none" stroke="#0000ff" stroke-width="1.5" stroke-linejoin="round" />
<path d="M392.00,296.50 L392.00,294.97 L392.00,293.44 L392.00,291.91 L392.00,290.39 L392.00,288.86 L392.00,287.34 L392.00,285.82 L392.00,284.30 L392.00,282.78 L392.00,281.26 L392.00,279.75 L392.00,278.23 L392.00,276.72 L392.00,275.20 L392.00,273.69 L392.00,272.18 L392.00,270.67 L392.00,269.16 L392.00,267.65 L392.00,266.15 L392.00,264.64 L392.00,263.13 L392.00,261.63 L392.00,260.13 L392.00,258.62 L392.00,257.12 L392.00,255.62 L392.00,254.12 L392.00,252.62 L392.00,251.12 L392.00,249.62 L392.00,248.12 L392.00,246.63 L392.00,245.13 L392.00,243.63 L392.00,242.14 L392.00,240.64 L392.00,239.15 L392.00,237.65 L392.00,236.16 L392.00,234.66 L392.00,233.17 L392.00,231.67 L392.02,230.18 L392.05,228.69 L392.07,227.19 L392.10,225.70 L392.13,224.21 L392.16,222.71 L392.18,221.22 L392.21,219.73 L392.24,218.23 L392.26,216.74 L392.29,215.25 L392.31,213.75 L392.34,212.26 L392.36,210.77 L392.39,209.27 L392.41,207.78 L392.44,206.28 L392.46,204.79 L392.48,203.29 L392.50,201.80 L392.52,200.30 L392.54,198.80 L392.56,197.31 L392.57,195.81 L392.59,194.31 L392.60,192.81 L392.62,191.31 L392.63,189.81 L392.64,188.31 L392.65,186.81 L392.66,185.31 L392.66,183.80 L392.67,182.30 L392.67,180.79 L392.67,179.29 L392.67,177.78 L392.67,176.28 L392.66,174.77 L392.65,173.26 L392.64,171.75 L392.63,170.24 L392.62,168.72 L392.60,167.21 L392.59,165.70 L392.57,164.18 L392.54,162.66 L392.52,161.15 L392.49,159.63 L392.46,158.11 L392.43,156.58 L392.39,155.06 L392.35,153.54 L392.31,152.01 L392.26,150.48 L392.22,148.95 L392.17,147.42 L392.11,145.89 L392.06,144.36 L392.00,142.82 L392.00,141.28 L392.00,139.74 L392.00,138.20 L392.00,136.66 L392.00,135.12 L392.00,133.57 L392.00,132.03 L392.00,130.48 L392.00,128.93 L392.00,127.38 L392.00,125.83 L392.00,124.28 L392.00,122.73 L392.00,121.19 L392.00,119.65 L392.00,118.11 L392.00,116.58 L392.00,115.05 L392.00,113.52 L392.00,112.00 L392.00,110.49 L392.00,108.98 L392.00,107.48 L392.00,105.99 L392.00,104.50 L392.00,103.02 L392.00,101.56 L392.00,100.10 L392.08,98.66 L392.37,97.22 L392.70,95.80 L393.07,94.39 L393.48,92.99 L393.93,91.61 L394.42,90.25 L394.97,88.92 L395.57,87.63 L396.24,86.38 L396.97,85.19 L397.76,84.05 L398.63,82.98 L399.57,81.99 L400.59,81.06 L401.67,80.20 L402.82,79.40 L404.02,78.66 L405.28,77.97 L406.59,77.34 L407.94,76.75 L409.32,76.21 L410.74,75.71 L412.19,75.24 L413.67,74.81 L415.16,74.40 L416.66,74.02 L418.18,73.66 L419.69,73.32 L421.21,72.99 L422.73,72.68 L424.24,72.38 L425.76,72.09 L427.27,71.82 L428.79,71.55 L430.30,71.30 L431.81,71.06 L433.32,70.83 L434.83,70.61 L436.34,70.40 L437.85,70.21 L439.35,70.02 L440.86,69.84 L442.37,69.67 L443.87,69.50 L445.38,69.35 L446.89,69.20 L448.39,69.07 L449.89,68.93 L451.40,68.81 L452.90,68.69 L454.40,68.58 L455.91,68.48 L457.41,68.37 L458.91,68.28 L460.41,68.19 L461.92,68.10 L463.42,68.02 L464.92,67.94 L466.42,67.87 L467.92,67.80 L469.42,67.73 L470.93,67.66 L472.43,67.59 L473.93,67.53 L475.43,67.47 L476.93,67.41 L478.43,67.35 L479.93,67.29 L481.44,67.23 L482.94,67.17 L484.44,67.11 L485.94,67.05 L487.45,66.99 L488.95,66.93 L490.45,66.87 L491.96,66.81 L493.46,66.75 L494.96,66.69 L496.47,66.63 L497.97,66.58 L499.48,66.52 L500.98,66.46 L502.48,66.40 L503.99,66.35 L505.49,66.29 L507.00,66.24 L508.50,66.18 L510.01,66.13 L511.51,66.08 L513.02,66.03 L514.52,65.97 L516.03,65.92 L517.53,65.88 L519.04,65.83 L520.54,65.78 L522.05,65.73 L523.55,65.69 L525.06,65.65 L526.57,65.60 L528.07,65.56 L529.58,65.52 L531.08,65.48 L532.59,65.44 L534.09,65.41 L535.60,65.37 L537.11,65.34 L538.61,65.31 L540.12,65.27 L541.62,65.24 L543.13,65.21 L544.64,65.18 L546.14,65.15 L547.65,65.13 L549.15,65.10 L550.66,65.08 L552.17,65.05 L553.67,65.03 L555.18,65.01 L556.68,64.98 L558.19,64.96 L559.70,64.94 L561.20,64.92 L562.71,64.90 L564.22,64.89 L565.72,64.87 L567.23,64.85 L568.74,64.84 L570.24,64.82 L571.75,64.81 L573.25,64.79 L574.76,64.78 L576.27,64.77 L577.77,64.76 L579.28,64.74 L580.79,64.73 L582.29,64.72 L583.80,64.71 L585.31,64.70 L586.81,64.69 L588.32,64.69 L589.83,64.68 L591.33,64.67 L592.84,64.66 L594.35,64.66 L595.85,64.65 L597.36,64.64 L598.87,64.64 L600.37,64.63 L601.88,64.62 L603.39,64.62 L604.89,64.61 L606.40,64.61 L607.91,64.60 L609.41,64.60 L610.92,64.59 L612.43,64.59 L613.93,64.59 L615.44,64.58 L616.95,64.58 L618.45,64.57 L619.96,64.57 L621.46,64.56 L622.97,64.56 L624.48,64.56 L625.98,64.55 L627.49,64.55 L629.00,64.54 L630.50,64.54 L632.01,64.53 L633.52,64.53 L635.02,64.52 L636.53,64.52 L638.04,64.51 L639.54,64.51 L641.05,64.50 L642.56,64.49 L644.06,64.49 L645.57,64.48 L647.07,64.47 L648.58,64.46 L650.09,64.46 L651.59,64.45 L653.10,64.44 L654.61,64.43 L656.11,64.42 L657.62,64.41 L659.12,64.40 L660.63,64.39 L662.14,64.37 L663.64,64.36 L665.15,64.35 L666.65,64.33 L668.16,64.32 L669.67,64.30 L671.17,64.29 L672.68,64.27 L674.18,64.26 L675.69,64.24 L677.19,64.22 L678.70,64.20" fill="none" stroke="#008000" stroke-width="1.5" stroke-linejoin="round" />
<path d="M392.00,296.50 L392.74,295.23 L393.50,293.97 L394.26,292.71 L395.04,291.47 L395.83,290.22 L396.62,288.98 L397.43,287.75 L398.24,286.52 L399.06,285.30 L399.89,284.08 L400.73,282.87 L401.58,281.66 L402.44,280.46 L403.30,279.26 L404.17,278.07 L405.05,276.88 L405.94,275.70 L406.84,274.52 L407.74,273.34 L408.65,272.17 L409.57,271.01 L410.49,269.84 L411.42,268.69 L412.36,267.53 L413.30,266.38 L414.25,265.24 L415.21,264.10 L416.17,262.96 L417.14,261.82 L418.11,260.69 L419.09,259.56 L420.07,258.44 L421.06,257.32 L422.06,256.20 L423.06,255.09 L424.06,253.98 L425.07,252.87 L426.09,251.76 L427.11,250.66 L428.13,249.56 L429.16,248.46 L430.19,247.37 L431.23,246.28 L432.26,245.19 L433.31,244.10 L434.35,243.02 L435.40,241.94 L436.45,240.86 L437.51,239.78 L438.57,238.70 L439.63,237.63 L440.69,236.56 L441.76,235.49 L442.82,234.42 L443.89,233.35 L444.96,232.29 L446.04,231.22 L447.11,230.16 L448.19,229.10 L449.27,228.04 L450.35,226.98 L451.43,225.92 L452.51,224.87 L453.59,223.81 L454.68,222.76 L455.77,221.71 L456.85,220.66 L457.94,219.61 L459.03,218.56 L460.12,217.51 L461.22,216.46 L462.31,215.42 L463.41,214.38 L464.50,213.34 L465.60,212.29 L466.70,211.26 L467.80,210.22 L468.90,209.18 L470.01,208.14 L471.11,207.11 L472.22,206.08 L473.32,205.05 L474.43,204.02 L475.54,202.99 L476.65,201.96 L477.77,200.93 L478.88,199.91 L479.99,198.88 L481.11,197.86 L482.23,196.84 L483.35,195.82 L484.47,194.80 L485.59,193.79 L486.71,192.77 L487.83,191.76 L488.96,190.74 L490.08,189.73 L491.21,188.72 L492.34,187.71 L493.47,186.70 L494.60,185.70 L495.73,184.69 L496.86,183.69 L498.00,182.69 L499.13,181.68 L500.27,180.68 L501.41,179.69 L502.54,178.69 L503.68,177.69 L504.83,176.70 L505.97,175.71 L507.11,174.71 L508.26,173.72 L509.40,172.73 L510.55,171.75 L511.70,170.76 L512.84,169.78 L513.99,168.79 L515.15,167.81 L516.30,166.83 L517.45,165.85 L518.61,164.87 L519.76,163.90 L520.92,162.92 L522.07,161.95 L523.23,160.97 L524.39,160.00 L525.55,159.03 L526.72,158.06 L527.88,157.10 L529.04,156.13 L530.21,155.17 L531.37,154.20 L532.54,153.24 L533.71,152.28 L534.88,151.33 L536.05,150.37 L537.22,149.42 L538.40,148.46 L539.57,147.51 L540.75,146.56 L541.92,145.62 L543.10,144.67 L544.28,143.73 L545.46,142.79 L546.65,141.85 L547.83,140.91 L549.02,139.97 L550.20,139.04 L551.39,138.11 L552.58,137.18 L553.77,136.25 L554.97,135.33 L556.16,134.41 L557.36,133.49 L558.56,132.57 L559.75,131.66 L560.96,130.75 L562.16,129.84 L563.36,128.93 L564.57,128.03 L565.78,127.13 L566.99,126.23 L568.20,125.33 L569.41,124.44 L570.63,123.55 L571.85,122.66 L573.07,121.78 L574.29,120.90 L575.51,120.02 L576.73,119.14 L577.96,118.27 L579.19,117.40 L580.42,116.54 L581.65,115.67 L582.89,114.82 L584.13,113.96 L585.37,113.11 L586.61,112.26 L587.85,111.41 L589.10,110.57 L590.35,109.73 L591.60,108.90 L592.85,108.06 L594.10,107.24 L595.36,106.41 L596.62,105.59 L597.88,104.77 L599.15,103.96 L600.41,103.15 L601.68,102.35 L602.95,101.55 L604.23,100.75 L605.50,99.96 L606.78,99.17 L608.06,98.38 L609.35,97.60 L610.63,96.82 L611.92,96.05 L613.21,95.28 L614.51,94.52 L615.80,93.76 L617.10,93.00 L618.40,92.25 L619.71,91.50 L621.02,90.76 L622.33,90.03 L623.64,89.29 L624.96,88.56 L626.28,87.84 L627.60,87.12 L628.92,86.41 L630.25,85.70 L631.58,84.99 L632.91,84.29 L634.25,83.60 L635.59,82.91 L636.93,82.22 L638.27,81.54 L639.62,80.87 L640.97,80.20 L642.33,79.53 L643.69,78.88 L645.05,78.22 L646.41,77.57 L647.78,76.93 L649.15,76.29 L650.52,75.66 L651.90,75.03 L653.28,74.41 L654.66,73.79 L656.05,73.18 L657.44,72.58 L658.83,71.98 L660.23,71.38 L661.63,70.80 L663.03,70.21 L664.44,69.64 L665.85,69.07 L667.26,68.50 L668.68,67.94 L670.10,67.39 L671.52,66.84 L672.95,66.30 L674.38,65.77 L675.82,65.24 L677.26,64.72 L678.70,64.20" fill="none" stroke="#ff0000" stroke-width="1.5" stroke-linejoin="round" />
<path d="M392.00,296.50 L392.61,295.13 L393.24,293.77 L393.88,292.42 L394.52,291.07 L395.18,289.73 L395.85,288.39 L396.53,287.06 L397.21,285.73 L397.91,284.41 L398.62,283.10 L399.33,281.79 L400.06,280.49 L400.79,279.19 L401.53,277.90 L402.28,276.61 L403.04,275.33 L403.81,274.05 L404.59,272.78 L405.37,271.51 L406.17,270.25 L406.97,268.99 L407.78,267.74 L408.59,266.49 L409.42,265.25 L410.25,264.01 L411.09,262.78 L411.94,261.55 L412.79,260.33 L413.65,259.11 L414.52,257.89 L415.39,256.68 L416.28,255.47 L417.16,254.27 L418.06,253.07 L418.96,251.88 L419.87,250.69 L420.78,249.51 L421.70,248.32 L422.63,247.15 L423.56,245.97 L424.50,244.80 L425.44,243.64 L426.39,242.48 L427.34,241.32 L428.30,240.16 L429.26,239.01 L430.23,237.86 L431.20,236.72 L432.18,235.58 L433.16,234.44 L434.15,233.31 L435.14,232.18 L436.14,231.05 L437.14,229.92 L438.14,228.80 L439.15,227.68 L440.16,226.57 L441.17,225.45 L442.19,224.35 L443.21,223.24 L444.24,222.14 L445.27,221.03 L446.30,219.94 L447.34,218.84 L448.38,217.75 L449.43,216.66 L450.47,215.57 L451.53,214.49 L452.58,213.41 L453.64,212.33 L454.70,211.26 L455.76,210.19 L456.83,209.12 L457.90,208.05 L458.98,206.98 L460.05,205.92 L461.13,204.86 L462.22,203.81 L463.30,202.75 L464.39,201.70 L465.48,200.66 L466.58,199.61 L467.68,198.57 L468.78,197.52 L469.88,196.49 L470.99,195.45 L472.09,194.42 L473.21,193.39 L474.32,192.36 L475.43,191.33 L476.55,190.31 L477.67,189.29 L478.80,188.27 L479.92,187.25 L481.05,186.24 L482.18,185.22 L483.32,184.21 L484.45,183.21 L485.59,182.20 L486.73,181.20 L487.87,180.20 L489.01,179.20 L490.16,178.20 L491.30,177.21 L492.45,176.21 L493.60,175.22 L494.76,174.23 L495.91,173.25 L497.07,172.26 L498.23,171.28 L499.39,170.30 L500.55,169.32 L501.71,168.35 L502.88,167.37 L504.04,166.40 L505.21,165.43 L506.38,164.46 L507.55,163.49 L508.72,162.53 L509.89,161.56 L511.07,160.60 L512.24,159.64 L513.42,158.69 L514.60,157.73 L515.78,156.78 L516.96,155.82 L518.14,154.87 L519.32,153.92 L520.51,152.98 L521.69,152.03 L522.88,151.09 L524.06,150.14 L525.25,149.20 L526.44,148.27 L527.63,147.33 L528.82,146.40 L530.02,145.47 L531.21,144.54 L532.41,143.61 L533.60,142.69 L534.80,141.76 L536.00,140.84 L537.20,139.93 L538.41,139.01 L539.61,138.10 L540.82,137.19 L542.03,136.28 L543.23,135.38 L544.45,134.47 L545.66,133.57 L546.87,132.68 L548.09,131.78 L549.30,130.89 L550.52,130.00 L551.74,129.12 L552.97,128.23 L554.19,127.35 L555.42,126.48 L556.64,125.60 L557.87,124.73 L559.10,123.87 L560.34,123.00 L561.57,122.14 L562.81,121.28 L564.05,120.43 L565.29,119.58 L566.53,118.73 L567.77,117.89 L569.02,117.04 L570.27,116.21 L571.52,115.37 L572.77,114.54 L574.03,113.72 L575.29,112.89 L576.54,112.07 L577.81,111.26 L579.07,110.45 L580.33,109.64 L581.60,108.83 L582.87,108.03 L584.15,107.24 L585.42,106.45 L586.70,105.66 L587.98,104.87 L589.26,104.09 L590.54,103.32 L591.83,102.55 L593.12,101.78 L594.41,101.02 L595.70,100.26 L597.00,99.50 L598.30,98.75 L599.60,98.01 L600.90,97.27 L602.21,96.53 L603.52,95.80 L604.83,95.07 L606.15,94.35 L607.46,93.63 L608.78,92.92 L610.11,92.21 L611.43,91.51 L612.76,90.81 L614.09,90.11 L615.42,89.42 L616.76,88.74 L618.10,88.06 L619.44,87.39 L620.79,86.72 L622.14,86.05 L623.49,85.40 L624.84,84.74 L626.20,84.10 L627.56,83.45 L628.92,82.82 L630.29,82.18 L631.66,81.56 L633.03,80.94 L634.40,80.32 L635.78,79.71 L637.16,79.11 L638.55,78.51 L639.94,77.92 L641.33,77.33 L642.72,76.75 L644.12,76.17 L645.52,75.60 L646.92,75.04 L648.33,74.48 L649.74,73.93 L651.16,73.38 L652.57,72.84 L654.00,72.31 L655.42,71.78 L656.85,71.26 L658.28,70.74 L659.72,70.23 L661.15,69.73 L662.60,69.23 L664.04,68.74 L665.49,68.26 L666.94,67.78 L668.40,67.31 L669.86,66.85 L671.33,66.39 L672.79,65.94 L674.26,65.49 L675.74,65.06 L677.22,64.63 L678.70,64.20" fill="none" stroke="#bf00bf" stroke-width="1.5" stroke-linejoin="round" />
<path d="M392.00,296.50 L392.94,295.36 L393.89,294.23 L394.85,293.10 L395.80,291.97 L396.77,290.85 L397.73,289.73 L398.70,288.61 L399.67,287.49 L400.65,286.37 L401.63,285.26 L402.61,284.15 L403.59,283.04 L404.58,281.93 L405.57,280.82 L406.56,279.72 L407.56,278.62 L408.56,277.52 L409.56,276.42 L410.57,275.33 L411.58,274.24 L412.59,273.15 L413.60,272.06 L414.62,270.97 L415.64,269.89 L416.66,268.80 L417.69,267.72 L418.72,266.65 L419.75,265.57 L420.78,264.49 L421.82,263.42 L422.86,262.35 L423.90,261.28 L424.94,260.21 L425.99,259.15 L427.04,258.09 L428.09,257.02 L429.15,255.96 L430.20,254.91 L431.26,253.85 L432.33,252.80 L433.39,251.74 L434.46,250.69 L435.53,249.64 L436.60,248.60 L437.67,247.55 L438.75,246.51 L439.83,245.47 L440.91,244.42 L441.99,243.39 L443.08,242.35 L444.16,241.31 L445.25,240.28 L446.34,239.25 L447.44,238.22 L448.53,237.19 L449.63,236.16 L450.73,235.13 L451.83,234.11 L452.94,233.09 L454.04,232.07 L455.15,231.05 L456.26,230.03 L457.37,229.01 L458.49,228.00 L459.60,226.98 L460.72,225.97 L461.84,224.96 L462.96,223.95 L464.08,222.94 L465.20,221.93 L466.33,220.93 L467.46,219.92 L468.58,218.92 L469.71,217.92 L470.85,216.92 L471.98,215.92 L473.12,214.92 L474.25,213.93 L475.39,212.93 L476.53,211.94 L477.67,210.95 L478.81,209.96 L479.96,208.97 L481.10,207.98 L482.25,206.99 L483.40,206.00 L484.55,205.02 L485.70,204.03 L486.85,203.05 L488.00,202.07 L489.15,201.09 L490.31,200.11 L491.47,199.13 L492.62,198.15 L493.78,197.18 L494.94,196.20 L496.10,195.23 L497.26,194.25 L498.43,193.28 L499.59,192.31 L500.75,191.34 L501.92,190.37 L503.09,189.40 L504.25,188.44 L505.42,187.47 L506.59,186.50 L507.76,185.54 L508.93,184.58 L510.10,183.61 L511.27,182.65 L512.44,181.69 L513.62,180.73 L514.79,179.77 L515.97,178.81 L517.14,177.85 L518.32,176.90 L519.49,175.94 L520.67,174.98 L521.85,174.03 L523.02,173.08 L524.20,172.12 L525.38,171.17 L526.56,170.22 L527.74,169.27 L528.92,168.32 L530.10,167.37 L531.28,166.42 L532.46,165.47 L533.64,164.52 L534.82,163.57 L536.00,162.63 L537.19,161.68 L538.37,160.74 L539.55,159.79 L540.74,158.85 L541.92,157.91 L543.11,156.97 L544.29,156.03 L545.48,155.09 L546.67,154.15 L547.85,153.22 L549.04,152.28 L550.23,151.34 L551.42,150.41 L552.61,149.48 L553.80,148.55 L554.99,147.62 L556.19,146.69 L557.38,145.76 L558.57,144.83 L559.77,143.91 L560.96,142.98 L562.16,142.06 L563.36,141.14 L564.55,140.21 L565.75,139.29 L566.95,138.38 L568.15,137.46 L569.35,136.54 L570.55,135.63 L571.76,134.72 L572.96,133.81 L574.17,132.90 L575.37,131.99 L576.58,131.08 L577.78,130.17 L578.99,129.27 L580.20,128.37 L581.41,127.47 L582.62,126.57 L583.84,125.67 L585.05,124.77 L586.26,123.88 L587.48,122.98 L588.70,122.09 L589.91,121.20 L591.13,120.31 L592.35,119.43 L593.57,118.54 L594.80,117.66 L596.02,116.78 L597.24,115.90 L598.47,115.02 L599.70,114.15 L600.93,113.27 L602.16,112.40 L603.39,111.53 L604.62,110.66 L605.85,109.80 L607.09,108.93 L608.32,108.07 L609.56,107.21 L610.80,106.35 L612.04,105.49 L613.28,104.64 L614.52,103.79 L615.76,102.94 L617.01,102.09 L618.26,101.24 L619.50,100.40 L620.75,99.56 L622.00,98.72 L623.26,97.88 L624.51,97.04 L625.77,96.21 L627.02,95.38 L628.28,94.55 L629.54,93.72 L630.80,92.90 L632.07,92.08 L633.33,91.26 L634.60,90.44 L635.87,89.63 L637.14,88.81 L638.41,88.00 L639.68,87.20 L640.95,86.39 L642.23,85.59 L643.51,84.79 L644.79,83.99 L646.07,83.20 L647.35,82.40 L648.64,81.61 L649.92,80.83 L651.21,80.04 L652.50,79.26 L653.79,78.48 L655.09,77.70 L656.38,76.93 L657.68,76.16 L658.98,75.39 L660.28,74.62 L661.58,73.86 L662.89,73.10 L664.19,72.34 L665.50,71.59 L666.81,70.84 L668.13,70.09 L669.44,69.34 L670.76,68.60 L672.08,67.86 L673.40,67.12 L674.72,66.38 L676.04,65.65 L677.37,64.92 L678.70,64.20" fill="none" stroke="#000000" stroke-width="1.5" stroke-linejoin="round" />
<path d="M394.58,296.50 L394.54,294.97 L394.51,293.43 L394.48,291.90 L394.45,290.37 L394.42,288.85 L394.39,287.32 L394.37,285.80 L394.35,284.28 L394.33,282.76 L394.31,281.24 L394.30,279.72 L394.29,278.20 L394.28,276.69 L394.27,275.18 L394.26,273.66 L394.25,272.15 L394.25,270.64 L394.24,269.14 L394.24,267.63 L394.24,266.12 L394.24,264.62 L394.25,263.12 L394.25,261.62 L394.26,260.11 L394.26,258.61 L394.27,257.11 L394.28,255.62 L394.29,254.12 L394.30,252.62 L394.31,251.13 L394.33,249.63 L394.34,248.14 L394.36,246.64 L394.37,245.15 L394.39,243.66 L394.40,242.17 L394.42,240.67 L394.44,239.18 L394.46,237.69 L394.47,236.20 L394.49,234.71 L394.51,233.22 L394.53,231.73 L394.55,230.25 L394.57,228.76 L394.59,227.27 L394.61,225.78 L394.63,224.29 L394.65,222.80 L394.67,221.31 L394.69,219.82 L394.71,218.34 L394.73,216.85 L394.75,215.36 L394.77,213.87 L394.79,212.38 L394.81,210.89 L394.82,209.40 L394.84,207.91 L394.86,206.42 L394.87,204.93 L394.89,203.44 L394.90,201.94 L394.91,200.45 L394.93,198.96 L394.94,197.46 L394.95,195.97 L394.96,194.47 L394.96,192.98 L394.97,191.48 L394.98,189.98 L394.98,188.48 L394.99,186.98 L394.99,185.48 L394.99,183.98 L394.99,182.48 L394.98,180.97 L394.98,179.47 L394.98,177.96 L394.97,176.45 L394.96,174.95 L394.95,173.44 L394.94,171.93 L394.92,170.41 L394.90,168.90 L394.89,167.38 L394.87,165.87 L394.84,164.35 L394.82,162.83 L394.79,161.31 L394.76,159.78 L394.73,158.26 L394.70,156.73 L394.66,155.20 L394.62,153.67 L394.58,152.14 L394.54,150.61 L394.49,149.07 L394.44,147.54 L394.39,146.00 L394.34,144.45 L394.28,142.91 L394.22,141.36 L394.16,139.82 L394.09,138.27 L394.02,136.71 L393.95,135.16 L393.87,133.60 L393.80,132.04 L393.72,130.48 L393.64,128.92 L393.56,127.36 L393.50,125.80 L393.44,124.24 L393.39,122.69 L393.35,121.14 L393.33,119.60 L393.32,118.06 L393.34,116.53 L393.37,115.01 L393.43,113.50 L393.52,111.99 L393.64,110.50 L393.79,109.02 L393.97,107.56 L394.18,106.10 L394.44,104.67 L394.73,103.24 L395.07,101.84 L395.45,100.45 L395.88,99.09 L396.36,97.74 L396.89,96.42 L397.48,95.13 L398.12,93.88 L398.82,92.67 L399.58,91.50 L400.40,90.39 L401.29,89.33 L402.25,88.33 L403.26,87.38 L404.33,86.47 L405.45,85.62 L406.62,84.82 L407.83,84.06 L409.09,83.34 L410.39,82.66 L411.72,82.01 L413.08,81.41 L414.48,80.84 L415.89,80.30 L417.33,79.78 L418.79,79.30 L420.26,78.84 L421.74,78.41 L423.23,78.00 L424.73,77.60 L426.22,77.22 L427.72,76.86 L429.21,76.52 L430.71,76.19 L432.21,75.88 L433.71,75.58 L435.21,75.29 L436.71,75.02 L438.21,74.76 L439.71,74.51 L441.21,74.28 L442.71,74.05 L444.21,73.84 L445.71,73.64 L447.21,73.45 L448.71,73.27 L450.22,73.09 L451.72,72.93 L453.22,72.77 L454.72,72.62 L456.23,72.48 L457.73,72.34 L459.23,72.21 L460.74,72.09 L462.24,71.97 L463.74,71.85 L465.25,71.74 L466.75,71.64 L468.25,71.53 L469.76,71.43 L471.26,71.33 L472.76,71.23 L474.26,71.13 L475.77,71.04 L477.27,70.94 L478.77,70.84 L480.27,70.74 L481.77,70.65 L483.28,70.55 L484.78,70.45 L486.28,70.35 L487.78,70.25 L489.28,70.15 L490.78,70.04 L492.28,69.94 L493.78,69.84 L495.28,69.74 L496.78,69.64 L498.28,69.54 L499.78,69.44 L501.28,69.34 L502.78,69.23 L504.28,69.13 L505.78,69.03 L507.28,68.93 L508.78,68.84 L510.28,68.74 L511.78,68.64 L513.28,68.54 L514.78,68.45 L516.28,68.35 L517.78,68.26 L519.28,68.16 L520.78,68.07 L522.28,67.98 L523.78,67.89 L525.28,67.80 L526.78,67.71 L528.28,67.62 L529.78,67.54 L531.28,67.46 L532.78,67.37 L534.28,67.29 L535.78,67.22 L537.28,67.14 L538.78,67.06 L540.28,66.99 L541.78,66.92 L543.28,66.85 L544.79,66.78 L546.29,66.72 L547.79,66.65 L549.29,66.59 L550.79,66.53 L552.30,66.48 L553.80,66.42 L555.30,66.36 L556.81,66.31 L558.31,66.26 L559.81,66.21 L561.32,66.16 L562.82,66.12 L564.32,66.07 L565.83,66.03 L567.33,65.99 L568.84,65.95 L570.34,65.91 L571.85,65.87 L573.35,65.84 L574.85,65.80 L576.36,65.77 L577.86,65.74 L579.37,65.70 L580.87,65.67 L582.38,65.64 L583.89,65.62 L585.39,65.59 L586.90,65.56 L588.40,65.54 L589.91,65.51 L591.41,65.49 L592.92,65.47 L594.42,65.44 L595.93,65.42 L597.44,65.40 L598.94,65.38 L600.45,65.36 L601.95,65.34 L603.46,65.32 L604.97,65.30 L606.47,65.29 L607.98,65.27 L609.48,65.25 L610.99,65.24 L612.50,65.22 L614.00,65.20 L615.51,65.19 L617.01,65.17 L618.52,65.16 L620.03,65.14 L621.53,65.13 L623.04,65.11 L624.54,65.09 L626.05,65.08 L627.56,65.06 L629.06,65.05 L630.57,65.03 L632.07,65.02 L633.58,65.00 L635.08,64.98 L636.59,64.97 L638.10,64.95 L639.60,64.93 L641.11,64.91 L642.61,64.89 L644.12,64.87 L645.62,64.85 L647.13,64.83 L648.63,64.81 L650.14,64.79 L651.64,64.77 L653.15,64.75 L654.65,64.72 L656.15,64.70 L657.66,64.67 L659.16,64.65 L660.67,64.62 L662.17,64.59 L663.67,64.56 L665.18,64.53 L666.68,64.50 L668.18,64.46 L669.69,64.43 L671.19,64.40 L672.69,64.36 L674.19,64.32 L675.70,64.28 L677.20,64.24 L678.70,64.20" fill="none" stroke="#0000ff" stroke-width="3" stroke-dasharray="2.9 2.8" />
<path d="M393.72,296.50 L393.68,294.97 L393.64,293.44 L393.60,291.91 L393.57,290.39 L393.54,288.86 L393.51,287.34 L393.48,285.82 L393.46,284.30 L393.44,282.78 L393.42,281.26 L393.40,279.74 L393.38,278.23 L393.37,276.71 L393.36,275.20 L393.35,273.69 L393.34,272.18 L393.34,270.67 L393.33,269.16 L393.33,267.65 L393.33,266.14 L393.33,264.64 L393.34,263.13 L393.34,261.63 L393.35,260.12 L393.35,258.62 L393.36,257.12 L393.37,255.62 L393.38,254.12 L393.40,252.62 L393.41,251.12 L393.42,249.62 L393.44,248.12 L393.46,246.63 L393.47,245.13 L393.49,243.63 L393.51,242.14 L393.53,240.64 L393.55,239.14 L393.57,237.65 L393.59,236.15 L393.61,234.66 L393.63,233.17 L393.66,231.67 L393.68,230.18 L393.70,228.68 L393.72,227.19 L393.75,225.70 L393.77,224.20 L393.79,222.71 L393.82,221.22 L393.84,219.72 L393.86,218.23 L393.88,216.74 L393.90,215.24 L393.93,213.75 L393.95,212.26 L393.97,210.76 L393.99,209.27 L394.01,207.77 L394.03,206.28 L394.04,204.78 L394.06,203.28 L394.08,201.79 L394.09,200.29 L394.11,198.79 L394.12,197.30 L394.13,195.80 L394.15,194.30 L394.16,192.80 L394.16,191.30 L394.17,189.80 L394.18,188.30 L394.18,186.79 L394.19,185.29 L394.19,183.79 L394.19,182.28 L394.19,180.77 L394.18,179.27 L394.18,177.76 L394.17,176.25 L394.16,174.74 L394.15,173.23 L394.14,171.72 L394.13,170.21 L394.11,168.69 L394.09,167.18 L394.07,165.66 L394.04,164.14 L394.02,162.62 L393.99,161.10 L393.96,159.58 L393.93,158.06 L393.89,156.54 L393.85,155.01 L393.81,153.48 L393.77,151.95 L393.72,150.42 L393.67,148.89 L393.62,147.36 L393.56,145.82 L393.50,144.29 L393.44,142.75 L393.38,141.21 L393.31,139.67 L393.24,138.12 L393.16,136.58 L393.08,135.03 L393.00,133.48 L392.91,131.93 L392.83,130.38 L392.74,128.83 L392.66,127.28 L392.58,125.72 L392.51,124.18 L392.45,122.63 L392.39,121.09 L392.35,119.55 L392.33,118.01 L392.32,116.48 L392.33,114.96 L392.37,113.45 L392.42,111.94 L392.50,110.44 L392.61,108.95 L392.74,107.47 L392.91,106.00 L393.11,104.55 L393.34,103.10 L393.61,101.67 L393.92,100.25 L394.28,98.85 L394.67,97.46 L395.11,96.09 L395.60,94.73 L396.13,93.40 L396.72,92.09 L397.36,90.82 L398.06,89.58 L398.81,88.38 L399.62,87.23 L400.48,86.14 L401.42,85.10 L402.41,84.12 L403.47,83.21 L404.60,82.36 L405.79,81.59 L407.04,80.88 L408.34,80.23 L409.69,79.63 L411.07,79.08 L412.49,78.58 L413.94,78.11 L415.41,77.68 L416.90,77.27 L418.40,76.89 L419.90,76.54 L421.41,76.19 L422.91,75.86 L424.42,75.55 L425.92,75.25 L427.42,74.96 L428.93,74.68 L430.43,74.42 L431.93,74.17 L433.43,73.93 L434.93,73.70 L436.44,73.48 L437.94,73.28 L439.44,73.08 L440.94,72.89 L442.44,72.71 L443.94,72.54 L445.44,72.38 L446.94,72.23 L448.45,72.08 L449.95,71.94 L451.45,71.81 L452.95,71.68 L454.45,71.56 L455.95,71.45 L457.45,71.33 L458.95,71.23 L460.45,71.13 L461.95,71.03 L463.45,70.93 L464.95,70.84 L466.45,70.75 L467.95,70.67 L469.45,70.58 L470.95,70.49 L472.46,70.41 L473.96,70.33 L475.46,70.24 L476.96,70.16 L478.46,70.08 L479.96,69.99 L481.46,69.91 L482.97,69.82 L484.47,69.74 L485.97,69.65 L487.47,69.56 L488.98,69.48 L490.48,69.39 L491.98,69.31 L493.49,69.22 L494.99,69.13 L496.49,69.05 L498.00,68.96 L499.50,68.88 L501.00,68.79 L502.51,68.71 L504.01,68.62 L505.51,68.54 L507.02,68.46 L508.52,68.38 L510.03,68.29 L511.53,68.21 L513.04,68.13 L514.54,68.06 L516.05,67.98 L517.55,67.90 L519.05,67.83 L520.56,67.75 L522.06,67.68 L523.57,67.61 L525.07,67.54 L526.58,67.47 L528.08,67.40 L529.59,67.33 L531.09,67.27 L532.60,67.21 L534.11,67.14 L535.61,67.08 L537.12,67.02 L538.62,66.96 L540.13,66.91 L541.63,66.85 L543.14,66.80 L544.64,66.74 L546.15,66.69 L547.65,66.64 L549.16,66.59 L550.67,66.54 L552.17,66.50 L553.68,66.45 L555.18,66.40 L556.69,66.36 L558.20,66.32 L559.70,66.27 L561.21,66.23 L562.71,66.19 L564.22,66.15 L565.73,66.11 L567.23,66.07 L568.74,66.04 L570.24,66.00 L571.75,65.97 L573.26,65.93 L574.76,65.90 L576.27,65.86 L577.77,65.83 L579.28,65.80 L580.79,65.77 L582.29,65.74 L583.80,65.71 L585.31,65.68 L586.81,65.65 L588.32,65.62 L589.83,65.60 L591.33,65.57 L592.84,65.54 L594.34,65.52 L595.85,65.49 L597.36,65.47 L598.86,65.44 L600.37,65.42 L601.88,65.40 L603.38,65.37 L604.89,65.35 L606.40,65.33 L607.90,65.31 L609.41,65.28 L610.92,65.26 L612.42,65.24 L613.93,65.22 L615.44,65.20 L616.94,65.18 L618.45,65.16 L619.96,65.14 L621.46,65.11 L622.97,65.09 L624.47,65.07 L625.98,65.05 L627.49,65.03 L628.99,65.01 L630.50,64.99 L632.01,64.97 L633.51,64.95 L635.02,64.93 L636.53,64.91 L638.03,64.89 L639.54,64.87 L641.05,64.85 L642.55,64.83 L644.06,64.80 L645.57,64.78 L647.07,64.76 L648.58,64.74 L650.08,64.72 L651.59,64.69 L653.10,64.67 L654.60,64.65 L656.11,64.62 L657.62,64.60 L659.12,64.57 L660.63,64.55 L662.13,64.52 L663.64,64.49 L665.15,64.47 L666.65,64.44 L668.16,64.41 L669.66,64.38 L671.17,64.36 L672.68,64.33 L674.18,64.30 L675.69,64.26 L677.19,64.23 L678.70,64.20" fill="none" stroke="#008000" stroke-width="3" stroke-dasharray="2.9 2.8" stroke-dashoffset="2.85"/>
<path d="M393.72,296.50 L393.68,294.97 L393.64,293.44 L393.60,291.91 L393.57,290.39 L393.54,288.86 L393.51,287.34 L393.48,285.82 L393.46,284.30 L393.44,282.78 L393.42,281.26 L393.40,279.74 L393.38,278.23 L393.37,276.71 L393.36,275.20 L393.35,273.69 L393.34,272.18 L393.34,270.67 L393.33,269.16 L393.33,267.65 L393.33,266.14 L393.33,264.64 L393.34,263.13 L393.34,261.63 L393.35,260.12 L393.35,258.62 L393.36,257.12 L393.37,255.62 L393.38,254.12 L393.40,252.62 L393.41,251.12 L393.42,249.62 L393.44,248.12 L393.46,246.63 L393.47,245.13 L393.49,243.63 L393.51,242.14 L393.53,240.64 L393.55,239.14 L393.57,237.65 L393.59,236.15 L393.61,234.66 L393.63,233.17 L393.66,231.67 L393.68,230.18 L393.70,228.68 L393.72,227.19 L393.75,225.70 L393.77,224.20 L393.79,222.71 L393.82,221.22 L393.84,219.72 L393.86,218.23 L393.88,216.74 L393.90,215.24 L393.93,213.75 L393.95,212.26 L393.97,210.76 L393.99,209.27 L394.01,207.77 L394.03,206.28 L394.04,204.78 L394.06,203.28 L394.08,201.79 L394.09,200.29 L394.11,198.79 L394.12,197.30 L394.13,195.80 L394.15,194.30 L394.16,192.80 L394.16,191.30 L394.17,189.80 L394.18,188.30 L394.18,186.79 L394.19,185.29 L394.19,183.79 L394.19,182.28 L394.19,180.77 L394.18,179.27 L394.18,177.76 L394.17,176.25 L394.16,174.74 L394.15,173.23 L394.14,171.72 L394.13,170.21 L394.11,168.69 L394.09,167.18 L394.07,165.66 L394.04,164.14 L394.02,162.62 L393.99,161.10 L393.96,159.58 L393.93,158.06 L393.89,156.54 L393.85,155.01 L393.81,153.48 L393.77,151.95 L393.72,150.42 L393.67,148.89 L393.62,147.36 L393.56,145.82 L393.50,144.29 L393.44,142.75 L393.38,141.21 L393.31,139.67 L393.24,138.12 L393.16,136.58 L393.08,135.03 L393.00,133.48 L392.91,131.93 L392.83,130.38 L392.74,128.83 L392.66,127.28 L392.58,125.72 L392.51,124.18 L392.45,122.63 L392.39,121.09 L392.35,119.55 L392.33,118.01 L392.32,116.48 L392.33,114.96 L392.37,113.45 L392.42,111.94 L392.50,110.44 L392.61,108.95 L392.74,107.47 L392.91,106.00 L393.11,104.55 L393.34,103.10 L393.61,101.67 L393.92,100.25 L394.28,98.85 L394.67,97.46 L395.11,96.09 L395.60,94.73 L396.13,93.40 L396.72,92.09 L397.36,90.82 L398.06,89.58 L398.81,88.38 L399.62,87.23 L400.48,86.14 L401.42,85.10 L402.41,84.12 L403.47,83.21 L404.60,82.36 L405.79,81.59 L407.04,80.88 L408.34,80.23 L409.69,79.63 L411.07,79.08 L412.49,78.58 L413.94,78.11 L415.41,77.68 L416.90,77.27 L418.40,76.89 L419.90,76.54 L421.41,76.19 L422.91,75.86 L424.42,75.55 L425.92,75.25 L427.42,74.96 L428.93,74.68 L430.43,74.42 L431.93,74.17 L433.43,73.93 L434.93,73.70 L436.44,73.48 L437.94,73.28 L439.44,73.08 L440.94,72.89 L442.44,72.71 L443.94,72.54 L445.44,72.38 L446.94,72.23 L448.45,72.08 L449.95,71.94 L451.45,71.81 L452.95,71.68 L454.45,71.56 L455.95,71.45 L457.45,71.33 L458.95,71.23 L460.45,71.13 L461.95,71.03 L463.45,70.93 L464.95,70.84 L466.45,70.75 L467.95,70.67 L469.45,70.58 L470.95,70.49 L472.46,70.41 L473.96,70.33 L475.46,70.24 L476.96,70.16 L478.46,70.08 L479.96,69.99 L481.46,69.91 L482.97,69.82 L484.47,69.74 L485.97,69.65 L487.47,69.56 L488.98,69.48 L490.48,69.39 L491.98,69.31 L493.49,69.22 L494.99,69.13 L496.49,69.05 L498.00,68.96 L499.50,68.88 L501.00,68.79 L502.51,68.71 L504.01,68.62 L505.51,68.54 L507.02,68.46 L508.52,68.38 L510.03,68.29 L511.53,68.21 L513.04,68.13 L514.54,68.06 L516.05,67.98 L517.55,67.90 L519.05,67.83 L520.56,67.75 L522.06,67.68 L523.57,67.61 L525.07,67.54 L526.58,67.47 L528.08,67.40 L529.59,67.33 L531.09,67.27 L532.60,67.21 L534.11,67.14 L535.61,67.08 L537.12,67.02 L538.62,66.96 L540.13,66.91 L541.63,66.85 L543.14,66.80 L544.64,66.74 L546.15,66.69 L547.65,66.64 L549.16,66.59 L550.67,66.54 L552.17,66.50 L553.68,66.45 L555.18,66.40 L556.69,66.36 L558.20,66.32 L559.70,66.27 L561.21,66.23 L562.71,66.19 L564.22,66.15 L565.73,66.11 L567.23,66.07 L568.74,66.04 L570.24,66.00 L571.75,65.97 L573.26,65.93 L574.76,65.90 L576.27,65.86 L577.77,65.83 L579.28,65.80 L580.79,65.77 L582.29,65.74 L583.80,65.71 L585.31,65.68 L586.81,65.65 L588.32,65.62 L589.83,65.60 L591.33,65.57 L592.84,65.54 L594.34,65.52 L595.85,65.49 L597.36,65.47 L598.86,65.44 L600.37,65.42 L601.88,65.40 L603.38,65.37 L604.89,65.35 L606.40,65.33 L607.90,65.31 L609.41,65.28 L610.92,65.26 L612.42,65.24 L613.93,65.22 L615.44,65.20 L616.94,65.18 L618.45,65.16 L619.96,65.14 L621.46,65.11 L622.97,65.09 L624.47,65.07 L625.98,65.05 L627.49,65.03 L628.99,65.01 L630.50,64.99 L632.01,64.97 L633.51,64.95 L635.02,64.93 L636.53,64.91 L638.03,64.89 L639.54,64.87 L641.05,64.85 L642.55,64.83 L644.06,64.80 L645.57,64.78 L647.07,64.76 L648.58,64.74 L650.08,64.72 L651.59,64.69 L653.10,64.67 L654.60,64.65 L656.11,64.62 L657.62,64.60 L659.12,64.57 L660.63,64.55 L662.13,64.52 L663.64,64.49 L665.15,64.47 L666.65,64.44 L668.16,64.41 L669.66,64.38 L671.17,64.36 L672.68,64.33 L674.18,64.30 L675.69,64.26 L677.19,64.23 L678.70,64.20" fill="none" stroke="#ff0000" stroke-width="3" stroke-dasharray="2.9 2.8" />
<path d="M393.43,296.50 L393.57,295.04 L393.70,293.57 L393.82,292.11 L393.93,290.64 L394.02,289.17 L394.11,287.70 L394.19,286.23 L394.26,284.75 L394.32,283.28 L394.37,281.80 L394.41,280.32 L394.44,278.83 L394.47,277.35 L394.49,275.86 L394.50,274.37 L394.50,272.88 L394.50,271.39 L394.49,269.90 L394.48,268.40 L394.46,266.90 L394.43,265.40 L394.40,263.90 L394.37,262.40 L394.33,260.90 L394.28,259.39 L394.23,257.88 L394.18,256.37 L394.12,254.86 L394.07,253.35 L394.01,251.83 L393.94,250.32 L393.88,248.80 L393.81,247.28 L393.74,245.76 L393.67,244.24 L393.60,242.71 L393.53,241.19 L393.45,239.66 L393.38,238.13 L393.31,236.60 L393.24,235.07 L393.17,233.54 L393.10,232.00 L393.03,230.47 L392.96,228.93 L392.90,227.39 L392.84,225.85 L392.78,224.31 L392.72,222.77 L392.67,221.23 L392.62,219.68 L392.58,218.13 L392.54,216.59 L392.50,215.04 L392.47,213.49 L392.44,211.94 L392.42,210.39 L392.41,208.83 L392.40,207.28 L392.39,205.72 L392.40,204.17 L392.41,202.61 L392.43,201.05 L392.45,199.49 L392.48,197.93 L392.53,196.37 L392.58,194.81 L392.64,193.25 L392.71,191.70 L392.79,190.14 L392.88,188.59 L392.98,187.04 L393.09,185.49 L393.21,183.94 L393.35,182.40 L393.50,180.86 L393.66,179.33 L393.83,177.80 L394.02,176.27 L394.22,174.76 L394.44,173.24 L394.67,171.73 L394.92,170.23 L395.18,168.74 L395.46,167.25 L395.76,165.77 L396.07,164.30 L396.40,162.83 L396.74,161.38 L397.11,159.93 L397.49,158.49 L397.90,157.06 L398.32,155.64 L398.76,154.24 L399.22,152.84 L399.70,151.45 L400.21,150.08 L400.73,148.72 L401.28,147.36 L401.84,146.03 L402.43,144.70 L403.05,143.39 L403.68,142.09 L404.34,140.80 L405.03,139.53 L405.73,138.28 L406.46,137.03 L407.21,135.81 L407.98,134.59 L408.78,133.39 L409.59,132.21 L410.43,131.04 L411.29,129.88 L412.16,128.75 L413.06,127.62 L413.98,126.51 L414.92,125.42 L415.88,124.34 L416.85,123.28 L417.85,122.24 L418.86,121.21 L419.90,120.20 L420.95,119.20 L422.02,118.22 L423.11,117.26 L424.21,116.32 L425.33,115.39 L426.47,114.48 L427.63,113.58 L428.80,112.71 L429.99,111.85 L431.19,111.01 L432.41,110.19 L433.64,109.38 L434.89,108.60 L436.16,107.83 L437.44,107.08 L438.73,106.34 L440.03,105.63 L441.35,104.93 L442.68,104.24 L444.03,103.58 L445.38,102.92 L446.74,102.29 L448.12,101.66 L449.50,101.05 L450.90,100.46 L452.30,99.88 L453.71,99.30 L455.13,98.75 L456.55,98.20 L457.98,97.67 L459.42,97.14 L460.86,96.63 L462.31,96.13 L463.76,95.63 L465.22,95.15 L466.68,94.67 L468.15,94.21 L469.61,93.75 L471.08,93.30 L472.55,92.85 L474.02,92.41 L475.50,91.98 L476.97,91.56 L478.44,91.14 L479.92,90.73 L481.39,90.32 L482.86,89.92 L484.34,89.52 L485.82,89.13 L487.29,88.75 L488.77,88.37 L490.25,88.00 L491.73,87.64 L493.20,87.27 L494.68,86.92 L496.16,86.57 L497.64,86.22 L499.13,85.88 L500.61,85.55 L502.09,85.22 L503.57,84.90 L505.05,84.58 L506.54,84.26 L508.02,83.95 L509.51,83.65 L510.99,83.35 L512.48,83.05 L513.96,82.76 L515.45,82.48 L516.94,82.20 L518.42,81.92 L519.91,81.65 L521.40,81.38 L522.89,81.11 L524.37,80.85 L525.86,80.60 L527.35,80.35 L528.84,80.10 L530.33,79.85 L531.82,79.61 L533.32,79.38 L534.81,79.14 L536.30,78.91 L537.79,78.69 L539.28,78.47 L540.78,78.25 L542.27,78.03 L543.76,77.82 L545.26,77.61 L546.75,77.41 L548.24,77.20 L549.74,77.01 L551.23,76.81 L552.73,76.62 L554.22,76.42 L555.72,76.24 L557.22,76.05 L558.71,75.87 L560.21,75.69 L561.71,75.51 L563.20,75.34 L564.70,75.17 L566.20,75.00 L567.70,74.83 L569.19,74.66 L570.69,74.50 L572.19,74.34 L573.69,74.18 L575.19,74.02 L576.69,73.87 L578.19,73.71 L579.69,73.56 L581.18,73.41 L582.68,73.26 L584.18,73.11 L585.68,72.97 L587.18,72.83 L588.68,72.68 L590.18,72.54 L591.68,72.40 L593.19,72.26 L594.69,72.12 L596.19,71.99 L597.69,71.85 L599.19,71.72 L600.69,71.58 L602.19,71.45 L603.69,71.32 L605.19,71.19 L606.69,71.06 L608.20,70.92 L609.70,70.79 L611.20,70.66 L612.70,70.54 L614.20,70.41 L615.70,70.28 L617.20,70.15 L618.71,70.02 L620.21,69.89 L621.71,69.76 L623.21,69.63 L624.71,69.50 L626.21,69.38 L627.72,69.25 L629.22,69.12 L630.72,68.99 L632.22,68.85 L633.72,68.72 L635.22,68.59 L636.72,68.46 L638.22,68.32 L639.72,68.19 L641.23,68.06 L642.73,67.92 L644.23,67.78 L645.73,67.64 L647.23,67.50 L648.73,67.36 L650.23,67.22 L651.73,67.08 L653.23,66.93 L654.73,66.79 L656.23,66.64 L657.73,66.49 L659.23,66.34 L660.73,66.19 L662.22,66.03 L663.72,65.88 L665.22,65.72 L666.72,65.56 L668.22,65.40 L669.72,65.23 L671.21,65.06 L672.71,64.90 L674.21,64.73 L675.71,64.55 L677.20,64.38 L678.70,64.20" fill="none" stroke="#bf00bf" stroke-width="3" stroke-dasharray="2.9 2.8" />
<path d="M393.43,296.50 L393.53,295.00 L393.62,293.49 L393.71,291.99 L393.79,290.49 L393.86,288.99 L393.93,287.49 L393.99,285.99 L394.04,284.49 L394.09,282.99 L394.14,281.50 L394.17,280.00 L394.21,278.50 L394.23,277.00 L394.26,275.50 L394.28,274.01 L394.29,272.51 L394.30,271.01 L394.30,269.51 L394.30,268.01 L394.30,266.52 L394.29,265.02 L394.28,263.52 L394.27,262.02 L394.25,260.52 L394.23,259.02 L394.21,257.52 L394.18,256.02 L394.15,254.52 L394.12,253.02 L394.08,251.51 L394.05,250.01 L394.01,248.51 L393.97,247.00 L393.93,245.50 L393.88,243.99 L393.84,242.48 L393.79,240.97 L393.74,239.47 L393.70,237.96 L393.65,236.44 L393.60,234.93 L393.55,233.42 L393.49,231.90 L393.44,230.39 L393.39,228.87 L393.34,227.35 L393.29,225.83 L393.24,224.31 L393.19,222.79 L393.14,221.26 L393.10,219.74 L393.05,218.21 L393.00,216.68 L392.96,215.15 L392.92,213.62 L392.88,212.08 L392.84,210.55 L392.80,209.01 L392.77,207.47 L392.74,205.93 L392.72,204.39 L392.70,202.85 L392.68,201.31 L392.67,199.77 L392.67,198.23 L392.67,196.69 L392.68,195.15 L392.70,193.61 L392.73,192.07 L392.76,190.53 L392.81,189.00 L392.86,187.46 L392.92,185.93 L393.00,184.40 L393.08,182.87 L393.18,181.35 L393.29,179.82 L393.41,178.30 L393.54,176.78 L393.69,175.27 L393.85,173.76 L394.03,172.25 L394.22,170.75 L394.43,169.25 L394.65,167.76 L394.89,166.27 L395.15,164.78 L395.42,163.30 L395.71,161.83 L396.02,160.36 L396.35,158.89 L396.70,157.43 L397.06,155.98 L397.45,154.54 L397.86,153.10 L398.29,151.66 L398.74,150.24 L399.20,148.82 L399.69,147.41 L400.20,146.00 L400.73,144.60 L401.28,143.22 L401.84,141.83 L402.42,140.46 L403.03,139.10 L403.65,137.74 L404.29,136.40 L404.95,135.06 L405.62,133.73 L406.32,132.41 L407.03,131.10 L407.76,129.80 L408.50,128.51 L409.26,127.23 L410.04,125.97 L410.84,124.71 L411.65,123.46 L412.48,122.22 L413.33,121.00 L414.19,119.79 L415.06,118.59 L415.96,117.40 L416.86,116.22 L417.79,115.05 L418.72,113.90 L419.68,112.76 L420.64,111.63 L421.63,110.52 L422.62,109.42 L423.63,108.33 L424.66,107.26 L425.70,106.20 L426.75,105.15 L427.81,104.12 L428.89,103.11 L429.98,102.10 L431.09,101.12 L432.20,100.15 L433.33,99.19 L434.47,98.25 L435.63,97.32 L436.79,96.41 L437.97,95.52 L439.16,94.64 L440.36,93.78 L441.57,92.94 L442.79,92.11 L444.03,91.30 L445.27,90.51 L446.53,89.74 L447.79,88.98 L449.07,88.24 L450.35,87.52 L451.65,86.82 L452.95,86.13 L454.27,85.47 L455.59,84.82 L456.92,84.18 L458.26,83.56 L459.61,82.96 L460.97,82.38 L462.34,81.81 L463.71,81.26 L465.09,80.72 L466.48,80.19 L467.88,79.69 L469.29,79.19 L470.70,78.71 L472.12,78.25 L473.54,77.80 L474.98,77.36 L476.42,76.94 L477.86,76.53 L479.31,76.13 L480.77,75.74 L482.23,75.37 L483.70,75.01 L485.18,74.66 L486.66,74.32 L488.14,74.00 L489.63,73.68 L491.12,73.38 L492.62,73.09 L494.12,72.80 L495.63,72.53 L497.14,72.27 L498.66,72.01 L500.17,71.77 L501.69,71.54 L503.22,71.31 L504.75,71.09 L506.28,70.89 L507.81,70.69 L509.34,70.49 L510.88,70.31 L512.42,70.13 L513.96,69.96 L515.50,69.80 L517.05,69.64 L518.59,69.49 L520.14,69.35 L521.69,69.21 L523.23,69.08 L524.78,68.96 L526.33,68.83 L527.88,68.72 L529.43,68.61 L530.98,68.50 L532.53,68.40 L534.08,68.30 L535.62,68.20 L537.17,68.11 L538.72,68.02 L540.26,67.94 L541.80,67.86 L543.34,67.78 L544.88,67.70 L546.42,67.62 L547.96,67.55 L549.49,67.48 L551.02,67.41 L552.55,67.34 L554.07,67.27 L555.59,67.20 L557.11,67.13 L558.63,67.07 L560.14,67.00 L561.66,66.94 L563.17,66.87 L564.67,66.81 L566.18,66.75 L567.68,66.69 L569.18,66.63 L570.68,66.57 L572.18,66.51 L573.67,66.45 L575.17,66.39 L576.66,66.34 L578.15,66.28 L579.64,66.23 L581.13,66.18 L582.62,66.12 L584.10,66.07 L585.59,66.02 L587.07,65.97 L588.55,65.92 L590.03,65.87 L591.51,65.82 L592.99,65.78 L594.47,65.73 L595.95,65.68 L597.43,65.64 L598.91,65.60 L600.39,65.55 L601.86,65.51 L603.34,65.47 L604.82,65.43 L606.29,65.39 L607.77,65.35 L609.25,65.31 L610.73,65.27 L612.20,65.23 L613.68,65.19 L615.16,65.16 L616.64,65.12 L618.12,65.09 L619.60,65.05 L621.08,65.02 L622.56,64.99 L624.04,64.96 L625.53,64.92 L627.01,64.89 L628.50,64.86 L629.99,64.83 L631.47,64.81 L632.96,64.78 L634.46,64.75 L635.95,64.72 L637.44,64.70 L638.94,64.67 L640.44,64.65 L641.94,64.62 L643.44,64.60 L644.94,64.57 L646.45,64.55 L647.96,64.53 L649.47,64.51 L650.98,64.49 L652.50,64.47 L654.01,64.45 L655.53,64.43 L657.06,64.41 L658.58,64.39 L660.11,64.37 L661.64,64.36 L663.18,64.34 L664.71,64.32 L666.25,64.31 L667.80,64.29 L669.35,64.28 L670.90,64.26 L672.45,64.25 L674.01,64.24 L675.57,64.22 L677.13,64.21 L678.70,64.20" fill="none" stroke="#000000" stroke-width="3" stroke-dasharray="2.9 2.8" />
</g>
<rect x="392.00" y="64.20" width="286.70" height="232.30" fill="none" stroke="#666" stroke-width="1.5"/>
<line x1="392.00" y1="296.50" x2="392.00" y2="293.50" stroke="#222" stroke-width="1.1"/>
<line x1="392.00" y1="64.20" x2="392.00" y2="67.20" stroke="#222" stroke-width="1.1"/>
<line x1="392.00" y1="296.50" x2="395.00" y2="296.50" stroke="#222" stroke-width="1.1"/>
<line x1="678.70" y1="296.50" x2="675.70" y2="296.50" stroke="#222" stroke-width="1.1"/>
<line x1="449.34" y1="296.50" x2="449.34" y2="293.50" stroke="#222" stroke-width="1.1"/>
<line x1="449.34" y1="64.20" x2="449.34" y2="67.20" stroke="#222" stroke-width="1.1"/>
<line x1="392.00" y1="250.04" x2="395.00" y2="250.04" stroke="#222" stroke-width="1.1"/>
<line x1="678.70" y1="250.04" x2="675.70" y2="250.04" stroke="#222" stroke-width="1.1"/>
<line x1="506.68" y1="296.50" x2="506.68" y2="293.50" stroke="#222" stroke-width="1.1"/>
<line x1="506.68" y1="64.20" x2="506.68" y2="67.20" stroke="#222" stroke-width="1.1"/>
<line x1="392.00" y1="203.58" x2="395.00" y2="203.58" stroke="#222" stroke-width="1.1"/>
<line x1="678.70" y1="203.58" x2="675.70" y2="203.58" stroke="#222" stroke-width="1.1"/>
<line x1="564.02" y1="296.50" x2="564.02" y2="293.50" stroke="#222" stroke-width="1.1"/>
<line x1="564.02" y1="64.20" x2="564.02" y2="67.20" stroke="#222" stroke-width="1.1"/>
<line x1="392.00" y1="157.12" x2="395.00" y2="157.12" stroke="#222" stroke-width="1.1"/>
<line x1="678.70" y1="157.12" x2="675.70" y2="157.12" stroke="#222" stroke-width="1.1"/>
<line x1="621.36" y1="296.50" x2="621.36" y2="293.50" stroke="#222" stroke-width="1.1"/>
<line x1="621.36" y1="64.20" x2="621.36" y2="67.20" stroke="#222" stroke-width="1.1"/>
<line x1="392.00" y1="110.66" x2="395.00" y2="110.66" stroke="#222" stroke-width="1.1"/>
<line x1="678.70" y1="110.66" x2="675.70" y2="110.66" stroke="#222" stroke-width="1.1"/>
<line x1="678.70" y1="296.50" x2="678.70" y2="293.50" stroke="#222" stroke-width="1.1"/>
<line x1="678.70" y1="64.20" x2="678.70" y2="67.20" stroke="#222" stroke-width="1.1"/>
<line x1="392.00" y1="64.20" x2="395.00" y2="64.20" stroke="#222" stroke-width="1.1"/>
<line x1="678.70" y1="64.20" x2="675.70" y2="64.20" stroke="#222" stroke-width="1.1"/>
<text x="392.00" y="312.00" text-anchor="middle" font-size="13.8" class="b">0</text>
<text x="388.50" y="300.80" text-anchor="end" font-size="13.8" class="b">0</text>
<text x="449.34" y="312.00" text-anchor="middle" font-size="13.8" class="b">0.2</text>
<text x="388.50" y="254.34" text-anchor="end" font-size="13.8" class="b">0.2</text>
<text x="506.68" y="312.00" text-anchor="middle" font-size="13.8" class="b">0.4</text>
<text x="388.50" y="207.88" text-anchor="end" font-size="13.8" class="b">0.4</text>
<text x="564.02" y="312.00" text-anchor="middle" font-size="13.8" class="b">0.6</text>
<text x="388.50" y="161.42" text-anchor="end" font-size="13.8" class="b">0.6</text>
<text x="621.36" y="312.00" text-anchor="middle" font-size="13.8" class="b">0.8</text>
<text x="388.50" y="114.96" text-anchor="end" font-size="13.8" class="b">0.8</text>
<text x="678.70" y="312.00" text-anchor="middle" font-size="13.8" class="b"> </text><path d="M515 0H696V1409H530L197 1180V1010L515 1237Z" transform="translate(674.863,312.000) scale(0.006738,-0.006738)" class="b" fill="#000" vector-effect="non-scaling-stroke"/>
<text x="388.50" y="68.50" text-anchor="end" font-size="13.8" class="b"> </text><path d="M515 0H696V1409H530L197 1180V1010L515 1237Z" transform="translate(380.825,68.500) scale(0.006738,-0.006738)" class="b" fill="#000" vector-effect="non-scaling-stroke"/>
<text x="513.7" y="24" text-anchor="middle" style="font-family:'Liberation Serif', serif;font-weight:bold" font-size="21">(b)</text>
<text x="534.50" y="52.70" text-anchor="middle" font-size="15.5" class="t">Message  , 2048 samples, INR = - 5dB</text><path d="M515 0H696V1409H530L197 1180V1010L515 1237Z" transform="translate(464.065,52.700) scale(0.007568,-0.007568)" class="t" fill="#000" vector-effect="non-scaling-stroke"/><path d="M515 0H696V1409H530L197 1180V1010L515 1237Z" transform="translate(635.935,52.700) scale(0.007568,-0.007568)" class="t" fill="#000" vector-effect="non-scaling-stroke"/>
<text x="524.6" y="328.6" font-size="16">P<tspan font-size="11" dy="7.2">fa</tspan></text>
<text transform="translate(354.0,193.8) rotate(-90)" font-size="15.5">P<tspan font-size="11" dy="7">det</tspan></text>
<defs><clipPath id="cpc"><rect x="731.3" y="64.8" width="283.70000000000005" height="231.8"/></clipPath></defs>
<line x1="788.04" y1="64.80" x2="788.04" y2="296.60" stroke="#333" stroke-width="1.05" stroke-dasharray="2.3 2.03"/>
<line x1="731.30" y1="250.24" x2="1015.00" y2="250.24" stroke="#333" stroke-width="1.05" stroke-dasharray="2.3 2.03"/>
<line x1="844.78" y1="64.80" x2="844.78" y2="296.60" stroke="#333" stroke-width="1.05" stroke-dasharray="2.3 2.03"/>
<line x1="731.30" y1="203.88" x2="1015.00" y2="203.88" stroke="#333" stroke-width="1.05" stroke-dasharray="2.3 2.03"/>
<line x1="901.52" y1="64.80" x2="901.52" y2="296.60" stroke="#333" stroke-width="1.05" stroke-dasharray="2.3 2.03"/>
<line x1="731.30" y1="157.52" x2="1015.00" y2="157.52" stroke="#333" stroke-width="1.05" stroke-dasharray="2.3 2.03"/>
<line x1="958.26" y1="64.80" x2="958.26" y2="296.60" stroke="#333" stroke-width="1.05" stroke-dasharray="2.3 2.03"/>
<line x1="731.30" y1="111.16" x2="1015.00" y2="111.16" stroke="#333" stroke-width="1.05" stroke-dasharray="2.3 2.03"/>
<g clip-path="url(#cpc)">
<path d="M731.30,296.60 L732.45,295.63 L733.61,294.65 L734.76,293.68 L735.91,292.70 L737.06,291.72 L738.21,290.75 L739.37,289.77 L740.52,288.79 L741.67,287.81 L742.81,286.83 L743.96,285.85 L745.11,284.87 L746.26,283.89 L747.41,282.91 L748.56,281.93 L749.70,280.95 L750.85,279.97 L752.00,278.99 L753.14,278.00 L754.29,277.02 L755.43,276.04 L756.58,275.05 L757.72,274.07 L758.87,273.08 L760.01,272.10 L761.16,271.11 L762.30,270.13 L763.44,269.14 L764.59,268.16 L765.73,267.17 L766.87,266.18 L768.01,265.20 L769.15,264.21 L770.30,263.22 L771.44,262.23 L772.58,261.25 L773.72,260.26 L774.86,259.27 L776.00,258.28 L777.14,257.29 L778.28,256.30 L779.42,255.31 L780.56,254.32 L781.70,253.33 L782.84,252.34 L783.98,251.35 L785.12,250.36 L786.26,249.37 L787.40,248.38 L788.53,247.39 L789.67,246.40 L790.81,245.41 L791.95,244.42 L793.09,243.43 L794.23,242.44 L795.36,241.45 L796.50,240.46 L797.64,239.46 L798.78,238.47 L799.92,237.48 L801.05,236.49 L802.19,235.50 L803.33,234.51 L804.47,233.52 L805.60,232.53 L806.74,231.54 L807.88,230.54 L809.02,229.55 L810.16,228.56 L811.29,227.57 L812.43,226.58 L813.57,225.59 L814.71,224.60 L815.84,223.61 L816.98,222.62 L818.12,221.63 L819.26,220.64 L820.40,219.65 L821.53,218.66 L822.67,217.67 L823.81,216.68 L824.95,215.69 L826.09,214.70 L827.23,213.71 L828.37,212.72 L829.51,211.73 L830.65,210.74 L831.78,209.75 L832.92,208.76 L834.06,207.78 L835.20,206.79 L836.34,205.80 L837.48,204.81 L838.62,203.83 L839.77,202.84 L840.91,201.85 L842.05,200.87 L843.19,199.88 L844.33,198.90 L845.47,197.91 L846.61,196.93 L847.76,195.94 L848.90,194.96 L850.04,193.97 L851.19,192.99 L852.33,192.01 L853.47,191.03 L854.62,190.04 L855.76,189.06 L856.91,188.08 L858.05,187.10 L859.20,186.12 L860.34,185.14 L861.49,184.16 L862.64,183.18 L863.78,182.20 L864.93,181.22 L866.08,180.24 L867.23,179.27 L868.37,178.29 L869.52,177.31 L870.67,176.34 L871.82,175.36 L872.97,174.39 L874.12,173.41 L875.27,172.44 L876.42,171.47 L877.58,170.50 L878.73,169.52 L879.88,168.55 L881.03,167.58 L882.19,166.61 L883.34,165.64 L884.50,164.67 L885.65,163.71 L886.81,162.74 L887.96,161.77 L889.12,160.80 L890.28,159.84 L891.44,158.87 L892.59,157.91 L893.75,156.95 L894.91,155.98 L896.07,155.02 L897.23,154.06 L898.39,153.10 L899.56,152.14 L900.72,151.18 L901.88,150.22 L903.05,149.27 L904.21,148.31 L905.38,147.35 L906.54,146.40 L907.71,145.44 L908.87,144.49 L910.04,143.54 L911.21,142.58 L912.38,141.63 L913.55,140.68 L914.72,139.73 L915.89,138.79 L917.06,137.84 L918.23,136.89 L919.41,135.95 L920.58,135.00 L921.76,134.06 L922.93,133.11 L924.11,132.17 L925.28,131.23 L926.46,130.29 L927.64,129.35 L928.82,128.41 L930.00,127.47 L931.18,126.54 L932.36,125.60 L933.54,124.67 L934.73,123.73 L935.91,122.80 L937.10,121.87 L938.28,120.94 L939.47,120.01 L940.66,119.08 L941.84,118.16 L943.03,117.23 L944.22,116.30 L945.41,115.38 L946.61,114.46 L947.80,113.54 L948.99,112.62 L950.19,111.70 L951.38,110.78 L952.58,109.86 L953.78,108.94 L954.97,108.03 L956.17,107.12 L957.37,106.20 L958.57,105.29 L959.78,104.38 L960.98,103.47 L962.18,102.56 L963.39,101.66 L964.59,100.75 L965.80,99.85 L967.01,98.95 L968.22,98.04 L969.43,97.14 L970.64,96.24 L971.85,95.35 L973.07,94.45 L974.28,93.55 L975.50,92.66 L976.71,91.77 L977.93,90.88 L979.15,89.99 L980.37,89.10 L981.59,88.21 L982.81,87.33 L984.03,86.44 L985.26,85.56 L986.48,84.68 L987.71,83.80 L988.94,82.92 L990.17,82.04 L991.40,81.16 L992.63,80.29 L993.86,79.42 L995.10,78.54 L996.33,77.67 L997.57,76.81 L998.80,75.94 L1000.04,75.07 L1001.28,74.21 L1002.52,73.34 L1003.76,72.48 L1005.01,71.62 L1006.25,70.77 L1007.50,69.91 L1008.75,69.05 L1009.99,68.20 L1011.24,67.35 L1012.50,66.50 L1013.75,65.65 L1015.00,64.80" fill="none" stroke="#0000ff" stroke-width="1.5" stroke-linejoin="round" />
<path d="M731.30,296.60 L731.69,295.12 L732.11,293.65 L732.55,292.19 L733.01,290.76 L733.50,289.33 L734.01,287.92 L734.54,286.52 L735.10,285.14 L735.67,283.77 L736.27,282.41 L736.88,281.06 L737.52,279.73 L738.17,278.41 L738.85,277.10 L739.54,275.80 L740.25,274.52 L740.99,273.25 L741.74,271.99 L742.50,270.74 L743.29,269.50 L744.09,268.27 L744.90,267.05 L745.74,265.84 L746.59,264.65 L747.45,263.46 L748.33,262.28 L749.22,261.11 L750.13,259.95 L751.05,258.80 L751.99,257.66 L752.94,256.53 L753.90,255.41 L754.87,254.29 L755.86,253.19 L756.86,252.09 L757.87,251.00 L758.89,249.91 L759.92,248.84 L760.96,247.77 L762.01,246.71 L763.07,245.65 L764.14,244.60 L765.22,243.56 L766.31,242.52 L767.41,241.49 L768.51,240.47 L769.62,239.45 L770.74,238.43 L771.86,237.42 L772.99,236.42 L774.13,235.42 L775.27,234.42 L776.42,233.43 L777.57,232.45 L778.72,231.46 L779.89,230.49 L781.05,229.51 L782.22,228.54 L783.39,227.57 L784.56,226.60 L785.74,225.64 L786.91,224.68 L788.09,223.72 L789.27,222.76 L790.45,221.81 L791.64,220.86 L792.82,219.90 L794.00,218.96 L795.19,218.01 L796.38,217.06 L797.56,216.12 L798.75,215.18 L799.94,214.24 L801.13,213.30 L802.33,212.36 L803.52,211.43 L804.71,210.50 L805.91,209.56 L807.10,208.63 L808.30,207.70 L809.50,206.78 L810.69,205.85 L811.89,204.93 L813.09,204.00 L814.29,203.08 L815.49,202.16 L816.69,201.24 L817.89,200.32 L819.09,199.40 L820.30,198.48 L821.50,197.57 L822.70,196.65 L823.91,195.74 L825.11,194.82 L826.32,193.91 L827.52,193.00 L828.73,192.09 L829.93,191.17 L831.14,190.26 L832.34,189.35 L833.55,188.44 L834.76,187.54 L835.96,186.63 L837.17,185.72 L838.38,184.81 L839.58,183.90 L840.79,183.00 L842.00,182.09 L843.20,181.18 L844.41,180.28 L845.62,179.37 L846.82,178.46 L848.03,177.56 L849.24,176.65 L850.44,175.74 L851.65,174.84 L852.85,173.93 L854.06,173.02 L855.26,172.12 L856.47,171.21 L857.67,170.30 L858.88,169.39 L860.08,168.48 L861.28,167.57 L862.48,166.66 L863.69,165.75 L864.89,164.84 L866.09,163.93 L867.29,163.02 L868.49,162.11 L869.69,161.20 L870.89,160.28 L872.09,159.37 L873.29,158.46 L874.49,157.55 L875.69,156.63 L876.89,155.72 L878.09,154.81 L879.29,153.90 L880.49,152.99 L881.69,152.07 L882.89,151.16 L884.08,150.25 L885.28,149.34 L886.48,148.43 L887.68,147.52 L888.88,146.61 L890.08,145.70 L891.28,144.79 L892.48,143.88 L893.68,142.97 L894.89,142.06 L896.09,141.16 L897.29,140.25 L898.49,139.34 L899.70,138.44 L900.90,137.54 L902.10,136.63 L903.31,135.73 L904.51,134.83 L905.72,133.93 L906.92,133.03 L908.13,132.13 L909.34,131.24 L910.55,130.34 L911.76,129.45 L912.97,128.55 L914.18,127.66 L915.39,126.77 L916.60,125.88 L917.82,124.99 L919.03,124.11 L920.25,123.22 L921.46,122.34 L922.68,121.46 L923.90,120.58 L925.12,119.70 L926.34,118.82 L927.56,117.95 L928.78,117.07 L930.01,116.20 L931.23,115.33 L932.46,114.46 L933.69,113.60 L934.92,112.73 L936.15,111.87 L937.38,111.01 L938.61,110.16 L939.85,109.30 L941.09,108.45 L942.32,107.60 L943.56,106.75 L944.80,105.90 L946.05,105.06 L947.29,104.22 L948.54,103.38 L949.79,102.54 L951.04,101.71 L952.29,100.87 L953.54,100.05 L954.79,99.22 L956.05,98.40 L957.31,97.57 L958.57,96.76 L959.83,95.94 L961.10,95.13 L962.36,94.32 L963.63,93.51 L964.90,92.71 L966.18,91.91 L967.45,91.11 L968.73,90.32 L970.01,89.53 L971.29,88.74 L972.57,87.95 L973.86,87.17 L975.14,86.39 L976.43,85.62 L977.73,84.85 L979.02,84.08 L980.32,83.32 L981.62,82.56 L982.92,81.80 L984.23,81.04 L985.53,80.29 L986.85,79.55 L988.16,78.81 L989.47,78.07 L990.79,77.33 L992.11,76.60 L993.43,75.87 L994.76,75.15 L996.09,74.43 L997.42,73.72 L998.76,73.00 L1000.09,72.30 L1001.43,71.59 L1002.78,70.89 L1004.12,70.20 L1005.47,69.51 L1006.82,68.82 L1008.18,68.14 L1009.54,67.47 L1010.90,66.79 L1012.26,66.12 L1013.63,65.46 L1015.00,64.80" fill="none" stroke="#008000" stroke-width="1.5" stroke-linejoin="round" />
<path d="M731.30,296.60 L732.49,295.67 L733.67,294.73 L734.86,293.80 L736.04,292.86 L737.22,291.93 L738.41,290.99 L739.59,290.05 L740.77,289.11 L741.95,288.17 L743.13,287.23 L744.31,286.28 L745.48,285.34 L746.66,284.39 L747.84,283.45 L749.01,282.50 L750.19,281.56 L751.36,280.61 L752.53,279.66 L753.71,278.71 L754.88,277.76 L756.05,276.81 L757.22,275.85 L758.39,274.90 L759.56,273.95 L760.72,272.99 L761.89,272.03 L763.06,271.08 L764.22,270.12 L765.39,269.16 L766.56,268.20 L767.72,267.24 L768.88,266.28 L770.05,265.32 L771.21,264.36 L772.37,263.40 L773.53,262.44 L774.69,261.47 L775.85,260.51 L777.01,259.54 L778.17,258.58 L779.33,257.61 L780.49,256.64 L781.65,255.68 L782.80,254.71 L783.96,253.74 L785.11,252.77 L786.27,251.80 L787.43,250.83 L788.58,249.86 L789.73,248.89 L790.89,247.92 L792.04,246.94 L793.19,245.97 L794.35,245.00 L795.50,244.02 L796.65,243.05 L797.80,242.07 L798.95,241.10 L800.10,240.12 L801.25,239.15 L802.40,238.17 L803.55,237.19 L804.70,236.22 L805.85,235.24 L807.00,234.26 L808.15,233.28 L809.30,232.30 L810.44,231.32 L811.59,230.34 L812.74,229.37 L813.88,228.39 L815.03,227.40 L816.18,226.42 L817.32,225.44 L818.47,224.46 L819.61,223.48 L820.76,222.50 L821.91,221.52 L823.05,220.54 L824.20,219.55 L825.34,218.57 L826.48,217.59 L827.63,216.61 L828.77,215.62 L829.92,214.64 L831.06,213.66 L832.20,212.67 L833.35,211.69 L834.49,210.71 L835.64,209.72 L836.78,208.74 L837.92,207.76 L839.07,206.77 L840.21,205.79 L841.35,204.80 L842.50,203.82 L843.64,202.84 L844.78,201.85 L845.93,200.87 L847.07,199.89 L848.21,198.90 L849.35,197.92 L850.50,196.93 L851.64,195.95 L852.78,194.97 L853.93,193.98 L855.07,193.00 L856.21,192.02 L857.36,191.03 L858.50,190.05 L859.65,189.07 L860.79,188.08 L861.93,187.10 L863.08,186.12 L864.22,185.14 L865.37,184.15 L866.51,183.17 L867.66,182.19 L868.80,181.21 L869.95,180.23 L871.09,179.25 L872.24,178.27 L873.38,177.29 L874.53,176.31 L875.67,175.33 L876.82,174.35 L877.97,173.37 L879.11,172.39 L880.26,171.41 L881.41,170.43 L882.56,169.45 L883.70,168.48 L884.85,167.50 L886.00,166.52 L887.15,165.55 L888.30,164.57 L889.45,163.59 L890.60,162.62 L891.75,161.64 L892.90,160.67 L894.05,159.70 L895.20,158.72 L896.35,157.75 L897.50,156.78 L898.66,155.81 L899.81,154.83 L900.96,153.86 L902.12,152.89 L903.27,151.92 L904.42,150.96 L905.58,149.99 L906.73,149.02 L907.89,148.05 L909.05,147.08 L910.20,146.12 L911.36,145.15 L912.52,144.19 L913.68,143.22 L914.84,142.26 L916.00,141.30 L917.16,140.34 L918.32,139.37 L919.48,138.41 L920.64,137.45 L921.80,136.49 L922.97,135.54 L924.13,134.58 L925.29,133.62 L926.46,132.66 L927.62,131.71 L928.79,130.75 L929.96,129.80 L931.12,128.85 L932.29,127.89 L933.46,126.94 L934.63,125.99 L935.80,125.04 L936.97,124.09 L938.14,123.15 L939.31,122.20 L940.49,121.25 L941.66,120.31 L942.84,119.36 L944.01,118.42 L945.19,117.48 L946.36,116.54 L947.54,115.60 L948.72,114.66 L949.90,113.72 L951.08,112.78 L952.26,111.84 L953.44,110.91 L954.62,109.97 L955.81,109.04 L956.99,108.11 L958.17,107.18 L959.36,106.24 L960.55,105.32 L961.73,104.39 L962.92,103.46 L964.11,102.53 L965.30,101.61 L966.49,100.69 L967.69,99.76 L968.88,98.84 L970.07,97.92 L971.27,97.00 L972.46,96.09 L973.66,95.17 L974.86,94.25 L976.06,93.34 L977.26,92.43 L978.46,91.51 L979.66,90.60 L980.86,89.70 L982.07,88.79 L983.27,87.88 L984.48,86.98 L985.69,86.07 L986.89,85.17 L988.10,84.27 L989.31,83.37 L990.52,82.47 L991.74,81.57 L992.95,80.68 L994.17,79.78 L995.38,78.89 L996.60,78.00 L997.82,77.11 L999.04,76.22 L1000.26,75.33 L1001.48,74.45 L1002.70,73.56 L1003.93,72.68 L1005.15,71.80 L1006.38,70.92 L1007.61,70.04 L1008.84,69.16 L1010.07,68.29 L1011.30,67.41 L1012.53,66.54 L1013.77,65.67 L1015.00,64.80" fill="none" stroke="#ff0000" stroke-width="1.5" stroke-linejoin="round" />
<path d="M731.30,296.60 L732.48,295.66 L733.66,294.72 L734.84,293.77 L736.02,292.83 L737.19,291.89 L738.37,290.94 L739.55,290.00 L740.72,289.05 L741.90,288.10 L743.07,287.15 L744.24,286.20 L745.41,285.25 L746.59,284.30 L747.76,283.35 L748.93,282.40 L750.10,281.44 L751.27,280.49 L752.44,279.53 L753.60,278.58 L754.77,277.62 L755.94,276.67 L757.10,275.71 L758.27,274.75 L759.43,273.79 L760.60,272.83 L761.76,271.87 L762.92,270.91 L764.09,269.95 L765.25,268.98 L766.41,268.02 L767.57,267.06 L768.73,266.09 L769.89,265.13 L771.05,264.16 L772.21,263.20 L773.37,262.23 L774.53,261.26 L775.68,260.29 L776.84,259.33 L778.00,258.36 L779.15,257.39 L780.31,256.42 L781.46,255.45 L782.62,254.48 L783.77,253.50 L784.93,252.53 L786.08,251.56 L787.23,250.59 L788.39,249.61 L789.54,248.64 L790.69,247.67 L791.84,246.69 L792.99,245.72 L794.14,244.74 L795.29,243.76 L796.44,242.79 L797.59,241.81 L798.74,240.84 L799.89,239.86 L801.04,238.88 L802.19,237.90 L803.34,236.92 L804.49,235.95 L805.64,234.97 L806.78,233.99 L807.93,233.01 L809.08,232.03 L810.23,231.05 L811.37,230.07 L812.52,229.09 L813.67,228.11 L814.81,227.13 L815.96,226.15 L817.10,225.17 L818.25,224.19 L819.40,223.20 L820.54,222.22 L821.69,221.24 L822.83,220.26 L823.98,219.28 L825.12,218.29 L826.27,217.31 L827.41,216.33 L828.56,215.35 L829.70,214.36 L830.84,213.38 L831.99,212.40 L833.13,211.42 L834.28,210.43 L835.42,209.45 L836.57,208.47 L837.71,207.49 L838.85,206.50 L840.00,205.52 L841.14,204.54 L842.29,203.55 L843.43,202.57 L844.58,201.59 L845.72,200.61 L846.86,199.62 L848.01,198.64 L849.15,197.66 L850.30,196.68 L851.44,195.69 L852.59,194.71 L853.73,193.73 L854.88,192.75 L856.02,191.77 L857.17,190.78 L858.31,189.80 L859.46,188.82 L860.60,187.84 L861.75,186.86 L862.89,185.88 L864.04,184.90 L865.18,183.92 L866.33,182.94 L867.48,181.96 L868.62,180.98 L869.77,180.00 L870.92,179.02 L872.06,178.04 L873.21,177.07 L874.36,176.09 L875.51,175.11 L876.66,174.13 L877.80,173.16 L878.95,172.18 L880.10,171.20 L881.25,170.23 L882.40,169.25 L883.55,168.28 L884.70,167.30 L885.85,166.33 L887.00,165.35 L888.15,164.38 L889.30,163.41 L890.46,162.43 L891.61,161.46 L892.76,160.49 L893.91,159.52 L895.07,158.55 L896.22,157.58 L897.38,156.61 L898.53,155.64 L899.68,154.67 L900.84,153.70 L902.00,152.74 L903.15,151.77 L904.31,150.80 L905.47,149.84 L906.62,148.87 L907.78,147.91 L908.94,146.94 L910.10,145.98 L911.26,145.02 L912.42,144.05 L913.58,143.09 L914.74,142.13 L915.90,141.17 L917.07,140.21 L918.23,139.25 L919.39,138.30 L920.56,137.34 L921.72,136.38 L922.88,135.43 L924.05,134.47 L925.22,133.52 L926.38,132.56 L927.55,131.61 L928.72,130.66 L929.89,129.71 L931.06,128.76 L932.23,127.81 L933.40,126.86 L934.57,125.91 L935.74,124.96 L936.91,124.02 L938.09,123.07 L939.26,122.12 L940.44,121.18 L941.61,120.24 L942.79,119.30 L943.97,118.36 L945.14,117.41 L946.32,116.48 L947.50,115.54 L948.68,114.60 L949.86,113.66 L951.04,112.73 L952.23,111.79 L953.41,110.86 L954.59,109.93 L955.78,109.00 L956.96,108.07 L958.15,107.14 L959.34,106.21 L960.52,105.28 L961.71,104.35 L962.90,103.43 L964.09,102.51 L965.29,101.58 L966.48,100.66 L967.67,99.74 L968.87,98.82 L970.06,97.90 L971.26,96.98 L972.45,96.07 L973.65,95.15 L974.85,94.24 L976.05,93.33 L977.25,92.41 L978.45,91.50 L979.66,90.59 L980.86,89.69 L982.07,88.78 L983.27,87.87 L984.48,86.97 L985.69,86.07 L986.89,85.17 L988.10,84.27 L989.32,83.37 L990.53,82.47 L991.74,81.57 L992.95,80.68 L994.17,79.78 L995.39,78.89 L996.60,78.00 L997.82,77.11 L999.04,76.22 L1000.26,75.33 L1001.48,74.45 L1002.71,73.56 L1003.93,72.68 L1005.16,71.80 L1006.38,70.92 L1007.61,70.04 L1008.84,69.16 L1010.07,68.29 L1011.30,67.41 L1012.53,66.54 L1013.77,65.67 L1015.00,64.80" fill="none" stroke="#bf00bf" stroke-width="1.5" stroke-linejoin="round" />
<path d="M731.30,296.60 L732.47,295.65 L733.65,294.70 L734.82,293.75 L735.99,292.80 L737.16,291.85 L738.33,290.90 L739.50,289.94 L740.67,288.99 L741.84,288.03 L743.01,287.08 L744.18,286.12 L745.34,285.17 L746.51,284.21 L747.68,283.25 L748.84,282.29 L750.01,281.33 L751.17,280.37 L752.34,279.41 L753.50,278.45 L754.66,277.49 L755.82,276.53 L756.99,275.56 L758.15,274.60 L759.31,273.64 L760.47,272.67 L761.63,271.71 L762.79,270.74 L763.95,269.77 L765.10,268.81 L766.26,267.84 L767.42,266.87 L768.58,265.90 L769.73,264.93 L770.89,263.96 L772.05,262.99 L773.20,262.02 L774.36,261.05 L775.51,260.08 L776.67,259.11 L777.82,258.14 L778.97,257.16 L780.13,256.19 L781.28,255.22 L782.43,254.24 L783.58,253.27 L784.74,252.30 L785.89,251.32 L787.04,250.35 L788.19,249.37 L789.34,248.39 L790.49,247.42 L791.64,246.44 L792.79,245.46 L793.94,244.49 L795.09,243.51 L796.24,242.53 L797.39,241.55 L798.53,240.57 L799.68,239.60 L800.83,238.62 L801.98,237.64 L803.13,236.66 L804.27,235.68 L805.42,234.70 L806.57,233.72 L807.71,232.74 L808.86,231.76 L810.01,230.78 L811.15,229.80 L812.30,228.82 L813.45,227.84 L814.59,226.85 L815.74,225.87 L816.88,224.89 L818.03,223.91 L819.18,222.93 L820.32,221.95 L821.47,220.96 L822.61,219.98 L823.76,219.00 L824.90,218.02 L826.05,217.04 L827.19,216.06 L828.34,215.07 L829.48,214.09 L830.63,213.11 L831.77,212.13 L832.92,211.14 L834.06,210.16 L835.21,209.18 L836.35,208.20 L837.50,207.22 L838.64,206.23 L839.79,205.25 L840.93,204.27 L842.08,203.29 L843.22,202.31 L844.37,201.33 L845.51,200.34 L846.66,199.36 L847.80,198.38 L848.95,197.40 L850.09,196.42 L851.24,195.44 L852.39,194.46 L853.53,193.48 L854.68,192.50 L855.82,191.52 L856.97,190.54 L858.12,189.56 L859.26,188.58 L860.41,187.60 L861.56,186.62 L862.70,185.64 L863.85,184.66 L865.00,183.69 L866.15,182.71 L867.30,181.73 L868.44,180.75 L869.59,179.78 L870.74,178.80 L871.89,177.82 L873.04,176.85 L874.19,175.87 L875.34,174.90 L876.49,173.92 L877.64,172.95 L878.79,171.97 L879.94,171.00 L881.09,170.02 L882.24,169.05 L883.40,168.08 L884.55,167.11 L885.70,166.13 L886.85,165.16 L888.01,164.19 L889.16,163.22 L890.31,162.25 L891.47,161.28 L892.62,160.31 L893.78,159.34 L894.93,158.38 L896.09,157.41 L897.25,156.44 L898.40,155.47 L899.56,154.51 L900.72,153.54 L901.87,152.58 L903.03,151.61 L904.19,150.65 L905.35,149.69 L906.51,148.72 L907.67,147.76 L908.83,146.80 L909.99,145.84 L911.16,144.88 L912.32,143.92 L913.48,142.96 L914.64,142.00 L915.81,141.05 L916.97,140.09 L918.14,139.13 L919.30,138.18 L920.47,137.22 L921.64,136.27 L922.80,135.32 L923.97,134.36 L925.14,133.41 L926.31,132.46 L927.48,131.51 L928.65,130.56 L929.82,129.61 L930.99,128.66 L932.16,127.72 L933.33,126.77 L934.51,125.82 L935.68,124.88 L936.86,123.94 L938.03,122.99 L939.21,122.05 L940.38,121.11 L941.56,120.17 L942.74,119.23 L943.92,118.29 L945.10,117.35 L946.28,116.42 L947.46,115.48 L948.64,114.54 L949.82,113.61 L951.01,112.68 L952.19,111.74 L953.38,110.81 L954.56,109.88 L955.75,108.95 L956.94,108.03 L958.12,107.10 L959.31,106.17 L960.50,105.25 L961.69,104.32 L962.88,103.40 L964.08,102.48 L965.27,101.55 L966.46,100.63 L967.66,99.72 L968.85,98.80 L970.05,97.88 L971.25,96.96 L972.44,96.05 L973.64,95.14 L974.84,94.22 L976.04,93.31 L977.25,92.40 L978.45,91.49 L979.65,90.59 L980.86,89.68 L982.06,88.77 L983.27,87.87 L984.48,86.97 L985.69,86.06 L986.90,85.16 L988.11,84.26 L989.32,83.36 L990.53,82.47 L991.74,81.57 L992.96,80.68 L994.17,79.78 L995.39,78.89 L996.61,78.00 L997.83,77.11 L999.05,76.22 L1000.27,75.34 L1001.49,74.45 L1002.71,73.57 L1003.93,72.68 L1005.16,71.80 L1006.39,70.92 L1007.61,70.04 L1008.84,69.17 L1010.07,68.29 L1011.30,67.42 L1012.53,66.54 L1013.77,65.67 L1015.00,64.80" fill="none" stroke="#000000" stroke-width="1.5" stroke-linejoin="round" />
<path d="M731.30,296.60 L731.73,295.13 L732.19,293.68 L732.67,292.24 L733.17,290.81 L733.69,289.39 L734.24,287.99 L734.81,286.60 L735.40,285.22 L736.02,283.86 L736.65,282.50 L737.31,281.16 L737.98,279.83 L738.68,278.51 L739.39,277.20 L740.13,275.90 L740.88,274.62 L741.65,273.34 L742.44,272.08 L743.25,270.83 L744.07,269.58 L744.91,268.35 L745.77,267.13 L746.64,265.92 L747.53,264.71 L748.43,263.52 L749.35,262.34 L750.28,261.16 L751.23,260.00 L752.19,258.84 L753.16,257.70 L754.15,256.56 L755.15,255.43 L756.16,254.31 L757.19,253.20 L758.22,252.10 L759.27,251.00 L760.32,249.92 L761.39,248.84 L762.47,247.77 L763.55,246.70 L764.65,245.65 L765.75,244.60 L766.87,243.56 L767.99,242.52 L769.11,241.50 L770.25,240.48 L771.39,239.46 L772.54,238.45 L773.69,237.45 L774.85,236.46 L776.02,235.47 L777.19,234.49 L778.36,233.51 L779.54,232.54 L780.72,231.57 L781.91,230.61 L783.10,229.65 L784.29,228.70 L785.48,227.75 L786.68,226.81 L787.87,225.88 L789.07,224.94 L790.27,224.02 L791.47,223.09 L792.67,222.17 L793.87,221.25 L795.07,220.34 L796.27,219.43 L797.47,218.52 L798.67,217.62 L799.88,216.71 L801.08,215.81 L802.28,214.91 L803.48,214.01 L804.68,213.11 L805.89,212.22 L807.09,211.32 L808.29,210.42 L809.49,209.53 L810.69,208.63 L811.89,207.74 L813.09,206.84 L814.28,205.94 L815.48,205.04 L816.68,204.14 L817.87,203.24 L819.07,202.34 L820.26,201.43 L821.45,200.52 L822.64,199.61 L823.83,198.69 L825.02,197.78 L826.20,196.85 L827.38,195.93 L828.57,195.00 L829.75,194.07 L830.92,193.13 L832.10,192.18 L833.28,191.24 L834.45,190.28 L835.62,189.32 L836.78,188.36 L837.95,187.39 L839.11,186.42 L840.28,185.44 L841.44,184.47 L842.60,183.49 L843.77,182.51 L844.93,181.53 L846.09,180.55 L847.26,179.57 L848.43,178.59 L849.60,177.62 L850.77,176.65 L851.94,175.69 L853.12,174.73 L854.30,173.77 L855.48,172.82 L856.67,171.88 L857.86,170.95 L859.06,170.03 L860.26,169.11 L861.46,168.21 L862.68,167.32 L863.89,166.43 L865.12,165.55 L866.34,164.69 L867.57,163.82 L868.81,162.97 L870.05,162.12 L871.30,161.28 L872.54,160.45 L873.80,159.62 L875.05,158.80 L876.31,157.98 L877.58,157.16 L878.84,156.35 L880.11,155.54 L881.38,154.74 L882.66,153.93 L883.93,153.13 L885.21,152.33 L886.49,151.54 L887.77,150.74 L889.06,149.94 L890.34,149.15 L891.62,148.35 L892.91,147.56 L894.19,146.76 L895.48,145.97 L896.76,145.17 L898.04,144.37 L899.33,143.57 L900.61,142.77 L901.89,141.96 L903.16,141.15 L904.44,140.34 L905.71,139.53 L906.98,138.71 L908.25,137.88 L909.52,137.06 L910.78,136.23 L912.04,135.39 L913.29,134.55 L914.54,133.70 L915.78,132.85 L917.03,131.99 L918.26,131.12 L919.49,130.25 L920.72,129.37 L921.95,128.49 L923.17,127.60 L924.38,126.71 L925.60,125.82 L926.81,124.92 L928.02,124.02 L929.23,123.12 L930.44,122.21 L931.65,121.30 L932.85,120.40 L934.06,119.49 L935.27,118.58 L936.47,117.67 L937.68,116.77 L938.88,115.86 L940.09,114.96 L941.30,114.05 L942.51,113.15 L943.72,112.25 L944.94,111.36 L946.16,110.47 L947.38,109.58 L948.60,108.70 L949.83,107.82 L951.06,106.95 L952.29,106.08 L953.53,105.22 L954.78,104.36 L956.03,103.52 L957.28,102.68 L958.54,101.84 L959.81,101.02 L961.08,100.20 L962.35,99.39 L963.64,98.59 L964.92,97.79 L966.21,97.00 L967.50,96.21 L968.80,95.42 L970.09,94.64 L971.39,93.86 L972.69,93.08 L973.99,92.30 L975.29,91.53 L976.59,90.75 L977.89,89.98 L979.19,89.20 L980.49,88.42 L981.79,87.64 L983.09,86.85 L984.38,86.06 L985.67,85.27 L986.95,84.47 L988.22,83.66 L989.42,82.80 L990.51,81.86 L991.43,80.80 L992.15,79.59 L992.69,78.26 L993.10,76.83 L993.43,75.34 L993.71,73.82 L993.98,72.28 L994.30,70.78 L994.71,69.33 L995.24,67.96 L995.95,66.71 L996.86,65.60 L998.04,64.80 L999.48,64.80 L1001.13,64.80 L1002.93,64.80 L1004.81,64.80 L1006.71,64.80 L1008.57,64.80 L1010.32,64.80 L1011.90,64.80 L1013.25,64.80 L1014.30,64.80 L1015.00,65.03" fill="none" stroke="#0000ff" stroke-width="3" stroke-dasharray="2.9 2.8" />
<path d="M731.30,296.60 L731.73,295.13 L732.18,293.67 L732.66,292.23 L733.15,290.80 L733.67,289.39 L734.22,287.99 L734.78,286.60 L735.36,285.23 L735.96,283.87 L736.58,282.52 L737.22,281.19 L737.88,279.86 L738.56,278.55 L739.26,277.25 L739.97,275.96 L740.71,274.69 L741.46,273.42 L742.22,272.17 L743.01,270.92 L743.81,269.69 L744.62,268.47 L745.46,267.25 L746.30,266.05 L747.16,264.86 L748.04,263.68 L748.93,262.50 L749.83,261.34 L750.75,260.18 L751.68,259.04 L752.63,257.90 L753.58,256.77 L754.55,255.65 L755.53,254.54 L756.52,253.43 L757.53,252.34 L758.54,251.25 L759.57,250.16 L760.60,249.09 L761.64,248.02 L762.70,246.96 L763.76,245.90 L764.83,244.85 L765.91,243.81 L767.00,242.77 L768.10,241.74 L769.20,240.71 L770.31,239.69 L771.43,238.67 L772.55,237.66 L773.68,236.65 L774.81,235.65 L775.95,234.65 L777.10,233.66 L778.25,232.67 L779.40,231.68 L780.56,230.70 L781.72,229.72 L782.88,228.74 L784.05,227.77 L785.22,226.80 L786.39,225.83 L787.57,224.86 L788.74,223.89 L789.92,222.93 L791.10,221.97 L792.28,221.01 L793.46,220.05 L794.64,219.10 L795.83,218.15 L797.01,217.19 L798.20,216.24 L799.39,215.30 L800.58,214.35 L801.77,213.40 L802.96,212.46 L804.15,211.52 L805.35,210.58 L806.54,209.64 L807.74,208.70 L808.94,207.77 L810.14,206.84 L811.33,205.90 L812.54,204.97 L813.74,204.04 L814.94,203.12 L816.14,202.19 L817.35,201.26 L818.55,200.34 L819.76,199.42 L820.96,198.50 L822.17,197.58 L823.38,196.66 L824.59,195.74 L825.80,194.83 L827.01,193.91 L828.22,193.00 L829.43,192.08 L830.65,191.17 L831.86,190.26 L833.07,189.35 L834.29,188.44 L835.50,187.54 L836.72,186.63 L837.93,185.72 L839.15,184.82 L840.37,183.91 L841.58,183.01 L842.80,182.11 L844.02,181.21 L845.24,180.31 L846.46,179.41 L847.68,178.51 L848.90,177.61 L850.12,176.71 L851.34,175.81 L852.56,174.92 L853.78,174.02 L855.00,173.12 L856.22,172.23 L857.44,171.33 L858.66,170.44 L859.88,169.55 L861.10,168.65 L862.32,167.76 L863.54,166.87 L864.76,165.98 L865.98,165.08 L867.21,164.19 L868.43,163.30 L869.65,162.41 L870.87,161.52 L872.09,160.63 L873.31,159.74 L874.53,158.86 L875.76,157.97 L876.98,157.08 L878.20,156.19 L879.42,155.31 L880.65,154.42 L881.87,153.54 L883.09,152.65 L884.32,151.77 L885.54,150.89 L886.76,150.00 L887.99,149.12 L889.21,148.24 L890.44,147.36 L891.66,146.48 L892.89,145.60 L894.11,144.72 L895.34,143.84 L896.56,142.96 L897.79,142.09 L899.02,141.21 L900.25,140.34 L901.47,139.46 L902.70,138.59 L903.93,137.71 L905.16,136.84 L906.39,135.97 L907.62,135.10 L908.85,134.23 L910.08,133.36 L911.31,132.49 L912.54,131.62 L913.78,130.75 L915.01,129.89 L916.24,129.02 L917.48,128.16 L918.71,127.29 L919.94,126.43 L921.18,125.57 L922.42,124.71 L923.65,123.85 L924.89,122.99 L926.13,122.13 L927.37,121.27 L928.61,120.41 L929.85,119.56 L931.09,118.70 L932.33,117.85 L933.57,116.99 L934.81,116.14 L936.06,115.29 L937.30,114.44 L938.55,113.59 L939.79,112.74 L941.04,111.90 L942.28,111.05 L943.53,110.20 L944.78,109.36 L946.03,108.52 L947.28,107.68 L948.53,106.83 L949.78,105.99 L951.04,105.16 L952.29,104.32 L953.54,103.48 L954.80,102.65 L956.06,101.81 L957.31,100.98 L958.57,100.15 L959.83,99.31 L961.09,98.49 L962.35,97.66 L963.61,96.83 L964.87,96.00 L966.14,95.18 L967.40,94.35 L968.67,93.53 L969.94,92.71 L971.20,91.89 L972.47,91.07 L973.74,90.25 L975.01,89.44 L976.29,88.62 L977.56,87.81 L978.83,86.99 L980.11,86.18 L981.38,85.37 L982.66,84.56 L983.94,83.76 L985.22,82.95 L986.50,82.15 L987.78,81.34 L989.07,80.54 L990.35,79.74 L991.64,78.94 L992.92,78.14 L994.21,77.35 L995.50,76.55 L996.79,75.76 L998.09,74.97 L999.38,74.17 L1000.67,73.39 L1001.97,72.60 L1003.27,71.81 L1004.56,71.03 L1005.86,70.24 L1007.17,69.46 L1008.47,68.68 L1009.77,67.90 L1011.08,67.12 L1012.38,66.35 L1013.69,65.57 L1015.00,64.80" fill="none" stroke="#008000" stroke-width="3" stroke-dasharray="2.9 2.8" stroke-dashoffset="2.85"/>
<path d="M731.30,296.60 L731.56,295.08 L731.86,293.59 L732.19,292.11 L732.55,290.65 L732.95,289.21 L733.37,287.78 L733.83,286.37 L734.31,284.98 L734.82,283.61 L735.36,282.25 L735.93,280.90 L736.52,279.57 L737.14,278.26 L737.78,276.96 L738.45,275.67 L739.15,274.40 L739.87,273.14 L740.61,271.89 L741.37,270.66 L742.16,269.44 L742.96,268.24 L743.79,267.04 L744.64,265.86 L745.50,264.68 L746.39,263.52 L747.29,262.37 L748.21,261.23 L749.15,260.10 L750.11,258.99 L751.08,257.88 L752.06,256.77 L753.06,255.68 L754.08,254.60 L755.11,253.52 L756.15,252.46 L757.20,251.40 L758.27,250.35 L759.34,249.30 L760.43,248.26 L761.52,247.23 L762.63,246.20 L763.74,245.18 L764.86,244.17 L765.99,243.16 L767.13,242.16 L768.27,241.16 L769.42,240.16 L770.57,239.17 L771.73,238.18 L772.89,237.20 L774.06,236.21 L775.22,235.23 L776.39,234.26 L777.56,233.28 L778.73,232.31 L779.91,231.34 L781.08,230.37 L782.25,229.40 L783.43,228.43 L784.60,227.47 L785.78,226.50 L786.96,225.54 L788.14,224.58 L789.32,223.63 L790.50,222.67 L791.68,221.71 L792.86,220.76 L794.04,219.81 L795.23,218.86 L796.41,217.91 L797.60,216.96 L798.79,216.02 L799.97,215.07 L801.16,214.13 L802.35,213.19 L803.54,212.25 L804.73,211.31 L805.92,210.37 L807.11,209.44 L808.30,208.50 L809.50,207.57 L810.69,206.64 L811.89,205.71 L813.08,204.78 L814.28,203.85 L815.47,202.92 L816.67,202.00 L817.87,201.07 L819.07,200.15 L820.27,199.23 L821.47,198.31 L822.67,197.39 L823.87,196.47 L825.07,195.55 L826.27,194.64 L827.47,193.72 L828.68,192.81 L829.88,191.89 L831.09,190.98 L832.29,190.07 L833.50,189.16 L834.70,188.25 L835.91,187.34 L837.12,186.43 L838.32,185.52 L839.53,184.62 L840.74,183.71 L841.95,182.81 L843.16,181.90 L844.37,181.00 L845.58,180.10 L846.79,179.20 L848.00,178.30 L849.21,177.40 L850.42,176.50 L851.63,175.60 L852.84,174.70 L854.06,173.81 L855.27,172.91 L856.48,172.01 L857.70,171.12 L858.91,170.22 L860.12,169.33 L861.34,168.43 L862.55,167.54 L863.77,166.65 L864.98,165.76 L866.20,164.86 L867.41,163.97 L868.63,163.08 L869.85,162.19 L871.06,161.30 L872.28,160.42 L873.50,159.53 L874.71,158.64 L875.93,157.75 L877.15,156.87 L878.37,155.98 L879.59,155.10 L880.81,154.21 L882.03,153.33 L883.25,152.44 L884.47,151.56 L885.69,150.68 L886.91,149.80 L888.13,148.92 L889.35,148.04 L890.58,147.16 L891.80,146.28 L893.02,145.40 L894.25,144.53 L895.47,143.65 L896.70,142.77 L897.92,141.90 L899.15,141.02 L900.38,140.15 L901.60,139.28 L902.83,138.41 L904.06,137.54 L905.29,136.67 L906.52,135.80 L907.75,134.93 L908.98,134.06 L910.21,133.19 L911.44,132.33 L912.67,131.46 L913.90,130.60 L915.14,129.73 L916.37,128.87 L917.60,128.01 L918.84,127.15 L920.07,126.29 L921.31,125.43 L922.55,124.57 L923.78,123.71 L925.02,122.85 L926.26,122.00 L927.50,121.14 L928.74,120.29 L929.98,119.44 L931.22,118.58 L932.46,117.73 L933.71,116.88 L934.95,116.03 L936.19,115.19 L937.44,114.34 L938.68,113.49 L939.93,112.65 L941.18,111.80 L942.42,110.96 L943.67,110.12 L944.92,109.28 L946.17,108.44 L947.42,107.60 L948.67,106.76 L949.93,105.92 L951.18,105.09 L952.43,104.25 L953.69,103.42 L954.94,102.58 L956.20,101.75 L957.46,100.92 L958.71,100.09 L959.97,99.26 L961.23,98.44 L962.49,97.61 L963.76,96.78 L965.02,95.96 L966.28,95.14 L967.54,94.32 L968.81,93.50 L970.08,92.68 L971.34,91.86 L972.61,91.04 L973.88,90.23 L975.15,89.41 L976.42,88.60 L977.69,87.79 L978.96,86.98 L980.23,86.17 L981.51,85.36 L982.78,84.55 L984.06,83.75 L985.34,82.94 L986.62,82.14 L987.89,81.34 L989.18,80.53 L990.46,79.74 L991.74,78.94 L993.02,78.14 L994.31,77.34 L995.59,76.55 L996.88,75.76 L998.17,74.97 L999.45,74.18 L1000.74,73.39 L1002.03,72.60 L1003.33,71.81 L1004.62,71.03 L1005.91,70.25 L1007.21,69.46 L1008.50,68.68 L1009.80,67.90 L1011.10,67.13 L1012.40,66.35 L1013.70,65.57 L1015.00,64.80" fill="none" stroke="#ff0000" stroke-width="3" stroke-dasharray="2.9 2.8" />
<path d="M731.30,296.60 L731.97,295.21 L732.67,293.83 L733.38,292.47 L734.11,291.12 L734.86,289.79 L735.62,288.47 L736.40,287.17 L737.19,285.88 L738.00,284.61 L738.83,283.35 L739.67,282.10 L740.52,280.86 L741.39,279.64 L742.27,278.43 L743.17,277.23 L744.08,276.04 L745.00,274.87 L745.94,273.70 L746.88,272.55 L747.84,271.41 L748.81,270.28 L749.79,269.16 L750.79,268.04 L751.79,266.94 L752.81,265.85 L753.83,264.77 L754.87,263.69 L755.91,262.63 L756.96,261.57 L758.03,260.52 L759.10,259.48 L760.18,258.44 L761.27,257.41 L762.36,256.39 L763.46,255.38 L764.57,254.37 L765.69,253.37 L766.81,252.38 L767.94,251.39 L769.08,250.40 L770.22,249.42 L771.37,248.45 L772.52,247.48 L773.67,246.51 L774.83,245.55 L776.00,244.59 L777.17,243.64 L778.34,242.69 L779.51,241.74 L780.69,240.79 L781.87,239.85 L783.05,238.91 L784.23,237.97 L785.42,237.03 L786.61,236.09 L787.79,235.16 L788.98,234.22 L790.17,233.29 L791.36,232.36 L792.55,231.42 L793.74,230.49 L794.93,229.56 L796.12,228.63 L797.32,227.70 L798.51,226.77 L799.70,225.84 L800.89,224.91 L802.09,223.98 L803.28,223.05 L804.47,222.12 L805.67,221.19 L806.86,220.27 L808.06,219.34 L809.25,218.41 L810.45,217.49 L811.65,216.56 L812.84,215.63 L814.04,214.71 L815.23,213.78 L816.43,212.86 L817.63,211.93 L818.82,211.01 L820.02,210.08 L821.22,209.16 L822.42,208.24 L823.61,207.31 L824.81,206.39 L826.01,205.47 L827.21,204.54 L828.40,203.62 L829.60,202.70 L830.80,201.77 L832.00,200.85 L833.19,199.93 L834.39,199.00 L835.59,198.08 L836.79,197.15 L837.98,196.23 L839.18,195.31 L840.38,194.38 L841.57,193.46 L842.77,192.54 L843.97,191.61 L845.16,190.69 L846.36,189.76 L847.55,188.84 L848.75,187.91 L849.95,186.99 L851.14,186.06 L852.34,185.14 L853.53,184.21 L854.72,183.28 L855.92,182.36 L857.11,181.43 L858.30,180.50 L859.50,179.58 L860.69,178.65 L861.88,177.72 L863.07,176.79 L864.26,175.86 L865.45,174.93 L866.65,174.00 L867.84,173.07 L869.03,172.14 L870.21,171.21 L871.40,170.28 L872.59,169.34 L873.78,168.41 L874.97,167.48 L876.16,166.55 L877.35,165.62 L878.53,164.68 L879.72,163.75 L880.91,162.82 L882.10,161.88 L883.28,160.95 L884.47,160.02 L885.66,159.09 L886.84,158.15 L888.03,157.22 L889.22,156.29 L890.41,155.36 L891.59,154.42 L892.78,153.49 L893.97,152.56 L895.16,151.63 L896.34,150.69 L897.53,149.76 L898.72,148.83 L899.91,147.90 L901.09,146.97 L902.28,146.04 L903.47,145.11 L904.66,144.18 L905.85,143.25 L907.04,142.32 L908.23,141.39 L909.42,140.46 L910.61,139.54 L911.80,138.61 L912.99,137.68 L914.18,136.76 L915.37,135.83 L916.56,134.91 L917.76,133.98 L918.95,133.06 L920.14,132.13 L921.34,131.21 L922.53,130.29 L923.73,129.37 L924.92,128.45 L926.12,127.53 L927.32,126.61 L928.51,125.69 L929.71,124.78 L930.91,123.86 L932.11,122.94 L933.31,122.03 L934.51,121.12 L935.71,120.20 L936.92,119.29 L938.12,118.38 L939.32,117.47 L940.53,116.56 L941.73,115.66 L942.94,114.75 L944.15,113.84 L945.36,112.94 L946.56,112.04 L947.77,111.14 L948.99,110.24 L950.20,109.34 L951.41,108.44 L952.62,107.54 L953.84,106.64 L955.06,105.75 L956.27,104.86 L957.49,103.97 L958.71,103.08 L959.93,102.19 L961.15,101.30 L962.37,100.41 L963.60,99.53 L964.82,98.65 L966.05,97.76 L967.28,96.88 L968.50,96.01 L969.73,95.13 L970.96,94.25 L972.20,93.38 L973.43,92.51 L974.67,91.64 L975.90,90.77 L977.14,89.90 L978.38,89.04 L979.62,88.17 L980.86,87.31 L982.10,86.45 L983.35,85.59 L984.60,84.74 L985.84,83.88 L987.09,83.03 L988.34,82.18 L989.60,81.33 L990.85,80.49 L992.11,79.64 L993.36,78.80 L994.62,77.96 L995.88,77.12 L997.14,76.28 L998.41,75.45 L999.67,74.62 L1000.94,73.79 L1002.21,72.96 L1003.48,72.13 L1004.75,71.31 L1006.03,70.49 L1007.30,69.67 L1008.58,68.85 L1009.86,68.04 L1011.14,67.22 L1012.43,66.41 L1013.71,65.61 L1015.00,64.80" fill="none" stroke="#bf00bf" stroke-width="3" stroke-dasharray="2.9 2.8" />
<path d="M731.30,296.60 L731.76,295.18 L732.25,293.76 L732.75,292.35 L733.27,290.96 L733.80,289.56 L734.35,288.18 L734.91,286.80 L735.49,285.43 L736.09,284.07 L736.70,282.71 L737.32,281.36 L737.96,280.02 L738.61,278.68 L739.27,277.35 L739.95,276.03 L740.65,274.71 L741.35,273.40 L742.07,272.09 L742.80,270.80 L743.54,269.50 L744.30,268.22 L745.06,266.94 L745.84,265.66 L746.63,264.39 L747.43,263.13 L748.25,261.87 L749.07,260.62 L749.90,259.38 L750.75,258.14 L751.60,256.90 L752.46,255.67 L753.34,254.44 L754.22,253.22 L755.11,252.01 L756.01,250.80 L756.92,249.59 L757.83,248.39 L758.76,247.19 L759.69,246.00 L760.63,244.82 L761.58,243.63 L762.53,242.45 L763.49,241.28 L764.46,240.11 L765.44,238.94 L766.42,237.78 L767.40,236.62 L768.40,235.47 L769.39,234.32 L770.40,233.17 L771.41,232.03 L772.42,230.88 L773.44,229.75 L774.46,228.61 L775.48,227.48 L776.51,226.36 L777.55,225.23 L778.58,224.11 L779.62,222.99 L780.67,221.88 L781.71,220.76 L782.76,219.65 L783.81,218.55 L784.86,217.44 L785.91,216.34 L786.97,215.24 L788.03,214.14 L789.08,213.04 L790.14,211.95 L791.20,210.86 L792.26,209.77 L793.32,208.68 L794.39,207.60 L795.45,206.52 L796.52,205.44 L797.58,204.36 L798.65,203.28 L799.72,202.21 L800.79,201.14 L801.87,200.07 L802.94,199.00 L804.02,197.94 L805.09,196.88 L806.17,195.82 L807.25,194.76 L808.34,193.71 L809.42,192.66 L810.50,191.61 L811.59,190.56 L812.68,189.52 L813.77,188.48 L814.86,187.44 L815.96,186.41 L817.06,185.37 L818.15,184.34 L819.25,183.31 L820.36,182.29 L821.46,181.27 L822.57,180.25 L823.68,179.23 L824.79,178.22 L825.90,177.21 L827.01,176.20 L828.13,175.19 L829.25,174.19 L830.37,173.19 L831.50,172.19 L832.62,171.20 L833.75,170.20 L834.88,169.22 L836.02,168.23 L837.15,167.25 L838.29,166.27 L839.43,165.29 L840.57,164.32 L841.72,163.35 L842.87,162.38 L844.02,161.41 L845.17,160.45 L846.33,159.49 L847.49,158.54 L848.65,157.59 L849.82,156.64 L850.98,155.69 L852.15,154.75 L853.33,153.81 L854.50,152.87 L855.68,151.94 L856.87,151.01 L858.05,150.08 L859.24,149.16 L860.43,148.24 L861.63,147.32 L862.82,146.41 L864.02,145.50 L865.23,144.59 L866.43,143.69 L867.64,142.79 L868.86,141.89 L870.07,140.99 L871.29,140.10 L872.51,139.22 L873.73,138.33 L874.96,137.45 L876.19,136.57 L877.42,135.69 L878.65,134.82 L879.89,133.95 L881.13,133.09 L882.37,132.22 L883.62,131.36 L884.86,130.50 L886.11,129.65 L887.36,128.80 L888.62,127.95 L889.87,127.10 L891.13,126.26 L892.39,125.42 L893.65,124.58 L894.92,123.75 L896.18,122.92 L897.45,122.09 L898.72,121.26 L899.99,120.44 L901.27,119.62 L902.54,118.80 L903.82,117.99 L905.10,117.18 L906.38,116.37 L907.67,115.56 L908.95,114.75 L910.24,113.95 L911.53,113.15 L912.82,112.36 L914.11,111.56 L915.40,110.77 L916.70,109.98 L917.99,109.20 L919.29,108.41 L920.59,107.63 L921.89,106.85 L923.19,106.08 L924.50,105.30 L925.80,104.53 L927.10,103.76 L928.41,102.99 L929.72,102.23 L931.03,101.47 L932.34,100.71 L933.65,99.95 L934.96,99.19 L936.27,98.44 L937.59,97.69 L938.90,96.94 L940.21,96.20 L941.53,95.45 L942.85,94.71 L944.16,93.97 L945.48,93.23 L946.80,92.50 L948.12,91.76 L949.44,91.03 L950.76,90.30 L952.09,89.58 L953.41,88.86 L954.73,88.14 L956.06,87.43 L957.39,86.72 L958.72,86.02 L960.05,85.32 L961.39,84.62 L962.72,83.93 L964.06,83.25 L965.40,82.57 L966.75,81.90 L968.09,81.24 L969.44,80.58 L970.80,79.93 L972.15,79.28 L973.51,78.65 L974.87,78.02 L976.24,77.40 L977.61,76.79 L978.99,76.19 L980.36,75.59 L981.75,75.01 L983.13,74.44 L984.52,73.87 L985.92,73.32 L987.32,72.77 L988.72,72.24 L990.13,71.72 L991.55,71.21 L992.97,70.71 L994.40,70.22 L995.83,69.75 L997.26,69.28 L998.71,68.83 L1000.16,68.40 L1001.61,67.97 L1003.07,67.56 L1004.54,67.16 L1006.01,66.78 L1007.49,66.41 L1008.98,66.06 L1010.47,65.72 L1011.98,65.40 L1013.48,65.09 L1015.00,64.80" fill="none" stroke="#000000" stroke-width="3" stroke-dasharray="2.9 2.8" />
</g>
<rect x="731.30" y="64.80" width="283.70" height="231.80" fill="none" stroke="#666" stroke-width="1.5"/>
<line x1="731.30" y1="296.60" x2="731.30" y2="293.60" stroke="#222" stroke-width="1.1"/>
<line x1="731.30" y1="64.80" x2="731.30" y2="67.80" stroke="#222" stroke-width="1.1"/>
<line x1="731.30" y1="296.60" x2="734.30" y2="296.60" stroke="#222" stroke-width="1.1"/>
<line x1="1015.00" y1="296.60" x2="1012.00" y2="296.60" stroke="#222" stroke-width="1.1"/>
<line x1="788.04" y1="296.60" x2="788.04" y2="293.60" stroke="#222" stroke-width="1.1"/>
<line x1="788.04" y1="64.80" x2="788.04" y2="67.80" stroke="#222" stroke-width="1.1"/>
<line x1="731.30" y1="250.24" x2="734.30" y2="250.24" stroke="#222" stroke-width="1.1"/>
<line x1="1015.00" y1="250.24" x2="1012.00" y2="250.24" stroke="#222" stroke-width="1.1"/>
<line x1="844.78" y1="296.60" x2="844.78" y2="293.60" stroke="#222" stroke-width="1.1"/>
<line x1="844.78" y1="64.80" x2="844.78" y2="67.80" stroke="#222" stroke-width="1.1"/>
<line x1="731.30" y1="203.88" x2="734.30" y2="203.88" stroke="#222" stroke-width="1.1"/>
<line x1="1015.00" y1="203.88" x2="1012.00" y2="203.88" stroke="#222" stroke-width="1.1"/>
<line x1="901.52" y1="296.60" x2="901.52" y2="293.60" stroke="#222" stroke-width="1.1"/>
<line x1="901.52" y1="64.80" x2="901.52" y2="67.80" stroke="#222" stroke-width="1.1"/>
<line x1="731.30" y1="157.52" x2="734.30" y2="157.52" stroke="#222" stroke-width="1.1"/>
<line x1="1015.00" y1="157.52" x2="1012.00" y2="157.52" stroke="#222" stroke-width="1.1"/>
<line x1="958.26" y1="296.60" x2="958.26" y2="293.60" stroke="#222" stroke-width="1.1"/>
<line x1="958.26" y1="64.80" x2="958.26" y2="67.80" stroke="#222" stroke-width="1.1"/>
<line x1="731.30" y1="111.16" x2="734.30" y2="111.16" stroke="#222" stroke-width="1.1"/>
<line x1="1015.00" y1="111.16" x2="1012.00" y2="111.16" stroke="#222" stroke-width="1.1"/>
<line x1="1015.00" y1="296.60" x2="1015.00" y2="293.60" stroke="#222" stroke-width="1.1"/>
<line x1="1015.00" y1="64.80" x2="1015.00" y2="67.80" stroke="#222" stroke-width="1.1"/>
<line x1="731.30" y1="64.80" x2="734.30" y2="64.80" stroke="#222" stroke-width="1.1"/>
<line x1="1015.00" y1="64.80" x2="1012.00" y2="64.80" stroke="#222" stroke-width="1.1"/>
<rect x="916.5" y="117.3" width="98.5" height="178.0" fill="#fff" stroke="#333" stroke-width="1"/>
<line x1="922.0" y1="127.25" x2="950.6" y2="127.25" stroke="#0000ff" stroke-width="1.4"/>
<text x="953.60" y="133.00" font-size="13.8" class="b">AD test</text>
<line x1="922.0" y1="144.89" x2="950.6" y2="144.89" stroke="#008000" stroke-width="1.4"/>
<text x="953.60" y="150.64" font-size="13.8" class="b">SW test</text>
<line x1="922.0" y1="162.53" x2="950.6" y2="162.53" stroke="#ff0000" stroke-width="1.4"/>
<text x="953.60" y="168.28" font-size="13.8" class="b">L test</text>
<line x1="922.0" y1="180.17" x2="950.6" y2="180.17" stroke="#bf00bf" stroke-width="1.4"/>
<text x="953.60" y="185.92" font-size="13.8" class="b">CM test</text>
<line x1="922.0" y1="197.81" x2="950.6" y2="197.81" stroke="#000000" stroke-width="1.4"/>
<text x="953.60" y="203.56" font-size="13.8" class="b">CHI2 test</text>
<rect x="921.90" y="213.95" width="3" height="3" fill="#0000ff"/>
<rect x="927.63" y="213.95" width="3" height="3" fill="#0000ff"/>
<rect x="933.36" y="213.95" width="3" height="3" fill="#0000ff"/>
<rect x="939.09" y="213.95" width="3" height="3" fill="#0000ff"/>
<rect x="944.82" y="213.95" width="3" height="3" fill="#0000ff"/>
<text x="953.60" y="221.20" font-size="13.8" class="b">K test</text>
<rect x="921.90" y="231.59" width="3" height="3" fill="#008000"/>
<rect x="927.63" y="231.59" width="3" height="3" fill="#008000"/>
<rect x="933.36" y="231.59" width="3" height="3" fill="#008000"/>
<rect x="939.09" y="231.59" width="3" height="3" fill="#008000"/>
<rect x="944.82" y="231.59" width="3" height="3" fill="#008000"/>
<text x="953.60" y="238.84" font-size="13.8" class="b">K2 test</text>
<rect x="921.90" y="249.23" width="3" height="3" fill="#ff0000"/>
<rect x="927.63" y="249.23" width="3" height="3" fill="#ff0000"/>
<rect x="933.36" y="249.23" width="3" height="3" fill="#ff0000"/>
<rect x="939.09" y="249.23" width="3" height="3" fill="#ff0000"/>
<rect x="944.82" y="249.23" width="3" height="3" fill="#ff0000"/>
<text x="953.60" y="256.48" font-size="13.8" class="b">JB test</text>
<rect x="921.90" y="266.87" width="3" height="3" fill="#bf00bf"/>
<rect x="927.63" y="266.87" width="3" height="3" fill="#bf00bf"/>
<rect x="933.36" y="266.87" width="3" height="3" fill="#bf00bf"/>
<rect x="939.09" y="266.87" width="3" height="3" fill="#bf00bf"/>
<rect x="944.82" y="266.87" width="3" height="3" fill="#bf00bf"/>
<text x="953.60" y="274.12" font-size="13.8" class="b">S test</text>
<rect x="921.90" y="284.51" width="3" height="3" fill="#000000"/>
<rect x="927.63" y="284.51" width="3" height="3" fill="#000000"/>
<rect x="933.36" y="284.51" width="3" height="3" fill="#000000"/>
<rect x="939.09" y="284.51" width="3" height="3" fill="#000000"/>
<rect x="944.82" y="284.51" width="3" height="3" fill="#000000"/>
<text x="953.60" y="291.76" font-size="13.8" class="b">LM test</text>
<text x="731.30" y="312.10" text-anchor="middle" font-size="13.8" class="b">0</text>
<text x="727.80" y="300.90" text-anchor="end" font-size="13.8" class="b">0</text>
<text x="788.04" y="312.10" text-anchor="middle" font-size="13.8" class="b">0.2</text>
<text x="727.80" y="254.54" text-anchor="end" font-size="13.8" class="b">0.2</text>
<text x="844.78" y="312.10" text-anchor="middle" font-size="13.8" class="b">0.4</text>
<text x="727.80" y="208.18" text-anchor="end" font-size="13.8" class="b">0.4</text>
<text x="901.52" y="312.10" text-anchor="middle" font-size="13.8" class="b">0.6</text>
<text x="727.80" y="161.82" text-anchor="end" font-size="13.8" class="b">0.6</text>
<text x="958.26" y="312.10" text-anchor="middle" font-size="13.8" class="b">0.8</text>
<text x="727.80" y="115.46" text-anchor="end" font-size="13.8" class="b">0.8</text>
<text x="1015.00" y="312.10" text-anchor="middle" font-size="13.8" class="b"> </text><path d="M515 0H696V1409H530L197 1180V1010L515 1237Z" transform="translate(1011.163,312.100) scale(0.006738,-0.006738)" class="b" fill="#000" vector-effect="non-scaling-stroke"/>
<text x="727.80" y="69.10" text-anchor="end" font-size="13.8" class="b"> </text><path d="M515 0H696V1409H530L197 1180V1010L515 1237Z" transform="translate(720.125,69.100) scale(0.006738,-0.006738)" class="b" fill="#000" vector-effect="non-scaling-stroke"/>
<text x="881.6" y="24" text-anchor="middle" style="font-family:'Liberation Serif', serif;font-weight:bold" font-size="21">(c)</text>
<text x="872.70" y="54.20" text-anchor="middle" font-size="15.5" class="t">Message  , 2048 samples, INR = -20dB</text><path d="M515 0H696V1409H530L197 1180V1010L515 1237Z" transform="translate(802.265,54.200) scale(0.007568,-0.007568)" class="t" fill="#000" vector-effect="non-scaling-stroke"/>
<text x="862.1" y="329.3" font-size="16">P<tspan font-size="11" dy="7.2">fa</tspan></text>
<text transform="translate(694.1,194.2) rotate(-90)" font-size="15.5">P<tspan font-size="11" dy="7">det</tspan></text>
</svg>
</body></html>
